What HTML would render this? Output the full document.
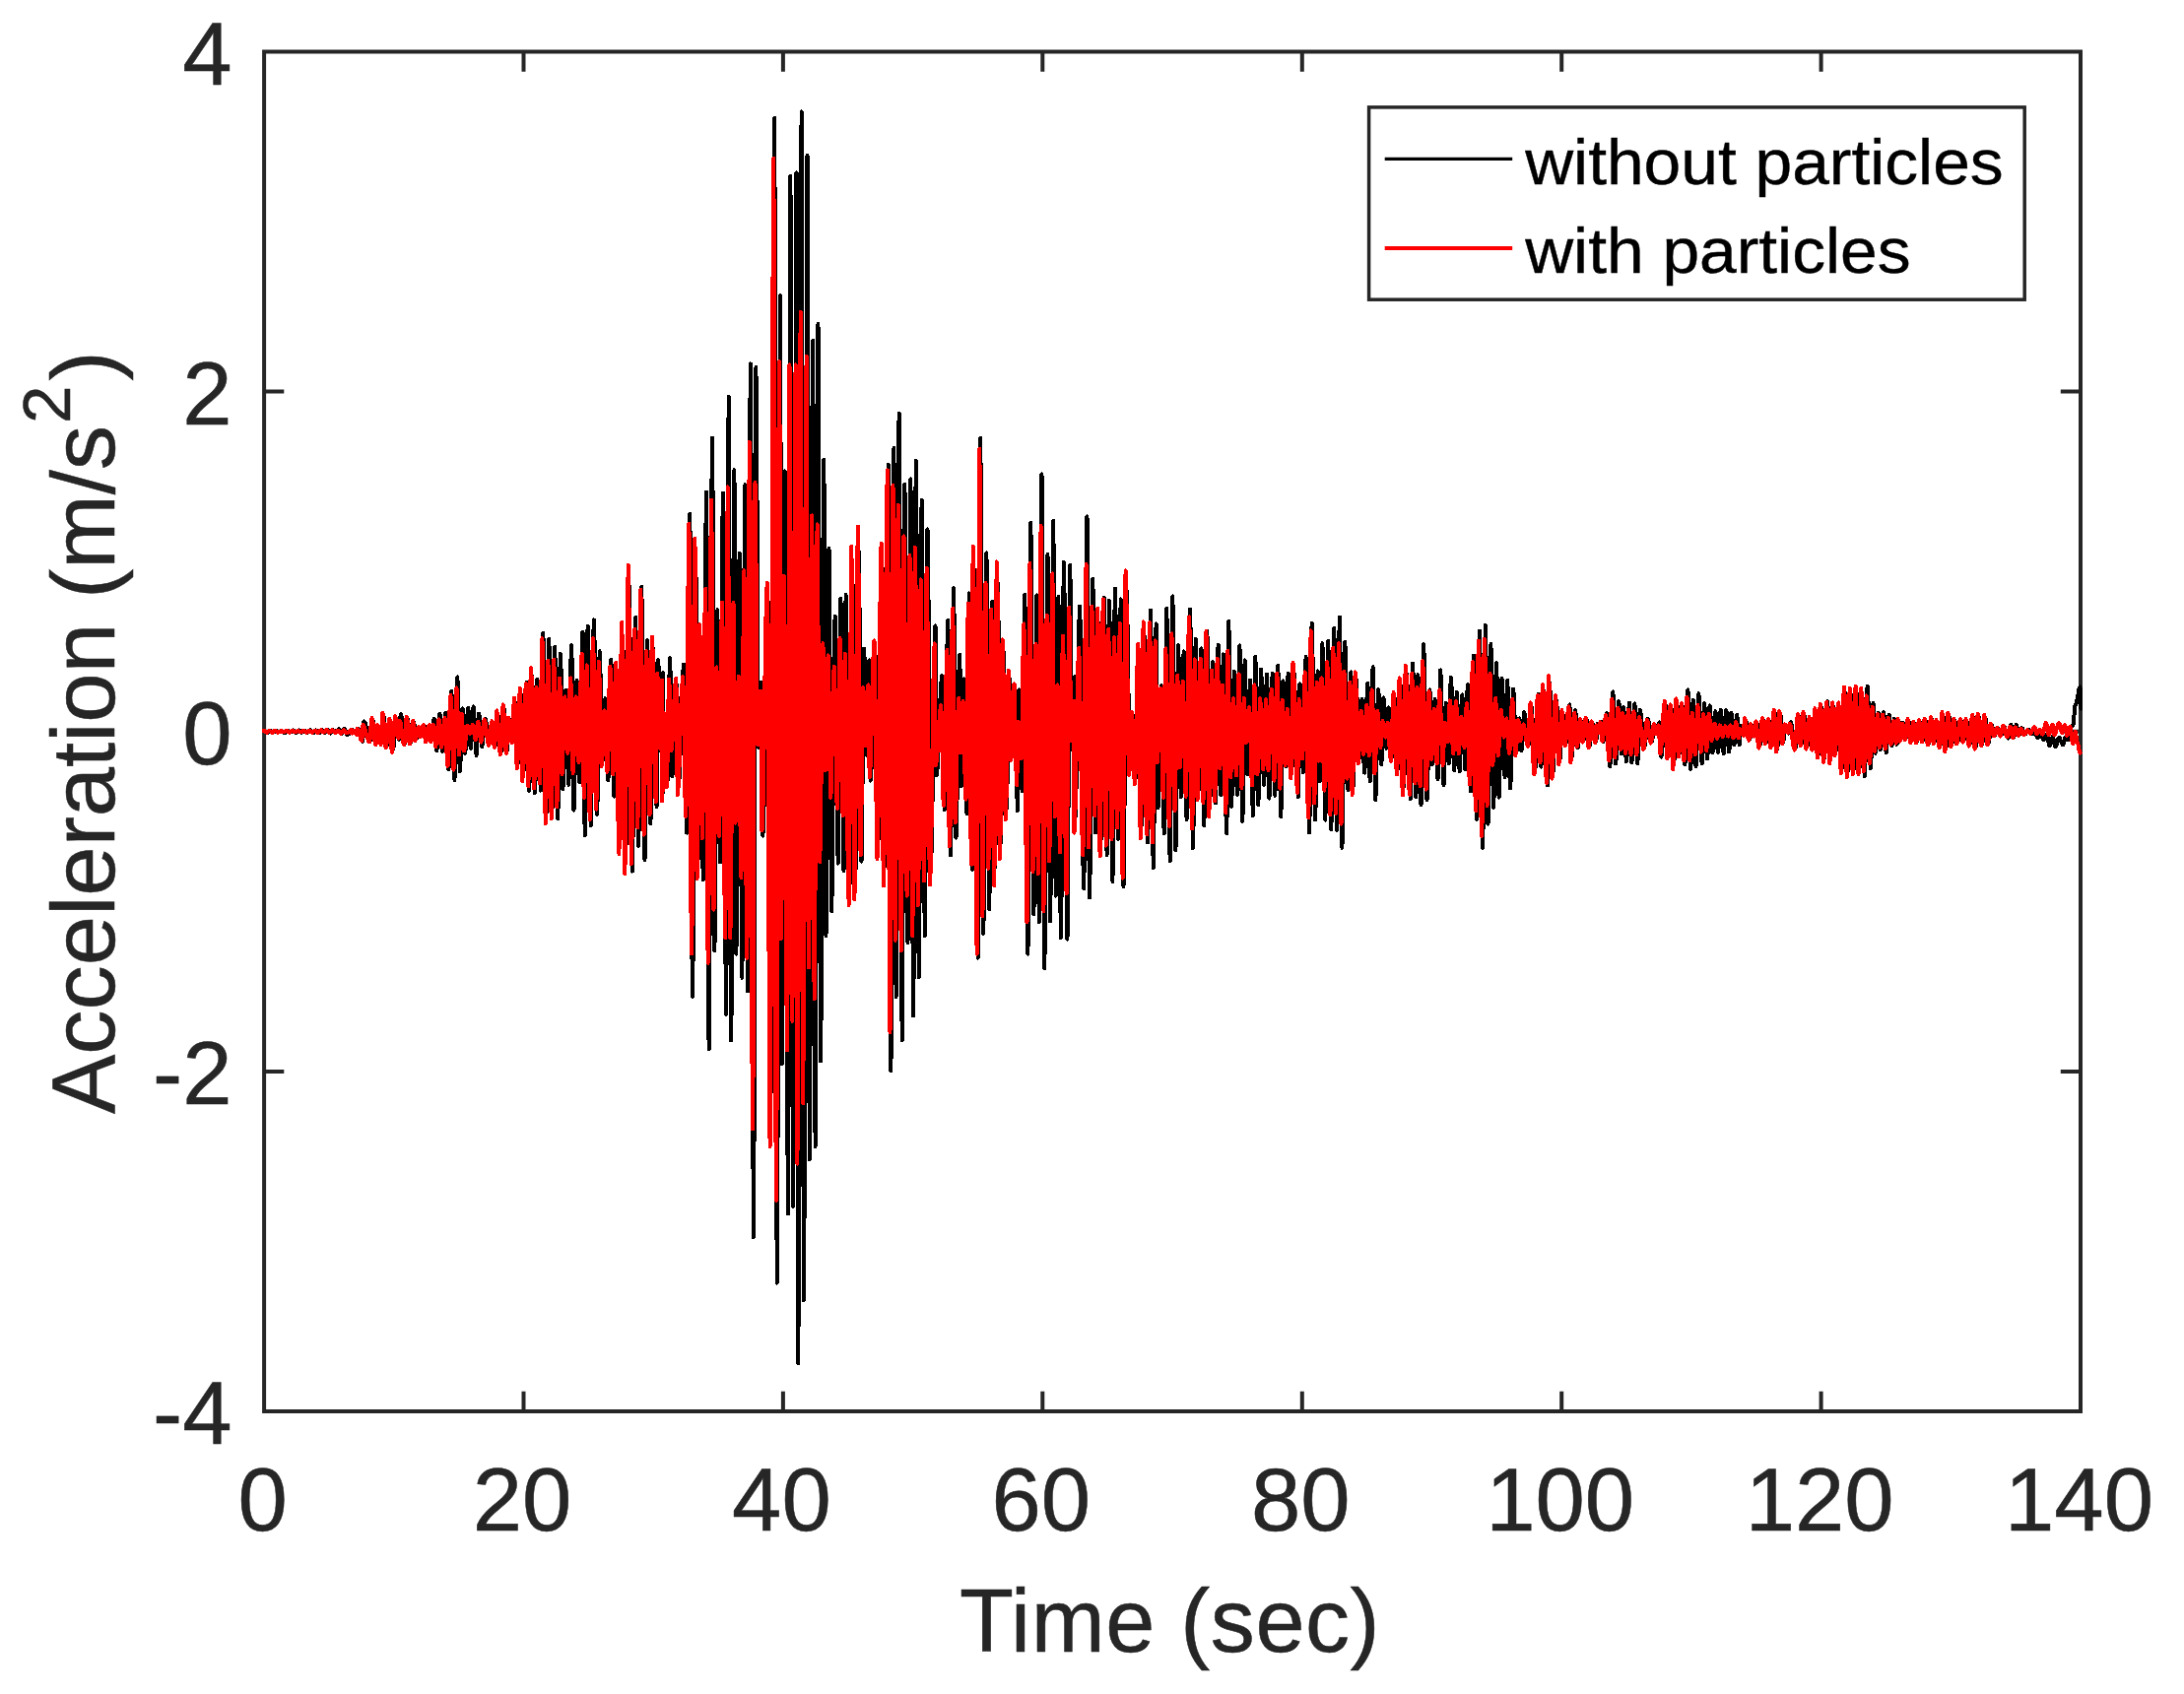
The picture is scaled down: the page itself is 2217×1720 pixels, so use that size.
<!DOCTYPE html>
<html lang="en"><head><meta charset="utf-8"><title>Acceleration vs Time</title>
<style>html,body{margin:0;padding:0;background:#fff}body{width:2217px;height:1720px;overflow:hidden}</style>
</head><body>
<svg width="2217" height="1720" viewBox="0 0 2217 1720" style="display:block">
<rect x="0" y="0" width="2217" height="1720" fill="#fff"/>
<defs><clipPath id="ax"><rect x="266.0" y="52.5" width="1848.1" height="1380.5"/></clipPath></defs>
<g stroke="#262626" stroke-width="4.0" fill="none" stroke-linecap="butt">
<rect x="268.1" y="52.5" width="1843.9" height="1380.5"/>
<path d="M531.5 1433.0V1412.8M531.5 52.5V72.7"/>
<path d="M794.9 1433.0V1412.8M794.9 52.5V72.7"/>
<path d="M1058.3 1433.0V1412.8M1058.3 52.5V72.7"/>
<path d="M1321.8 1433.0V1412.8M1321.8 52.5V72.7"/>
<path d="M1585.2 1433.0V1412.8M1585.2 52.5V72.7"/>
<path d="M1848.6 1433.0V1412.8M1848.6 52.5V72.7"/>
<path d="M268.1 397.6H288.3M2112.0 397.6H2091.8"/>
<path d="M268.1 742.8H288.3M2112.0 742.8H2091.8"/>
<path d="M268.1 1087.9H288.3M2112.0 1087.9H2091.8"/>
</g>
<g clip-path="url(#ax)" fill="none" stroke-linejoin="round" stroke-linecap="round" stroke-width="4.0" shape-rendering="crispEdges">
<path stroke="#000" d="M268.6 741.9L269.2 742.1L269.8 742.6L270.3 743.1L270.9 743.6L271.5 743.7L272.1 743.6L272.7 743.1L273.2 742.5L273.8 742.0L274.4 741.9L275.0 742.0L275.6 742.5L276.1 743.1L276.7 743.6L277.3 743.8L277.9 743.6L278.5 743.1L279.0 742.4L279.6 741.9L280.2 741.7L280.8 741.9L281.3 742.3L281.9 742.8L282.5 743.3L283.1 743.4L283.7 743.3L284.2 743.0L284.8 742.6L285.4 742.2L286.0 742.1L286.6 742.3L287.1 742.7L287.7 743.3L288.3 743.8L288.9 744.0L289.5 743.8L290.0 743.3L290.6 742.6L291.2 742.1L291.8 741.9L292.4 742.1L292.9 742.5L293.5 743.0L294.1 743.4L294.7 743.6L295.3 743.4L295.8 742.8L296.4 742.1L297.0 741.6L297.6 741.4L298.2 741.6L298.7 742.2L299.3 743.0L299.9 743.6L300.5 743.8L301.1 743.6L301.6 743.0L302.2 742.2L302.8 741.6L303.4 741.4L304.0 741.7L304.5 742.3L305.1 743.0L305.7 743.6L306.3 743.8L306.8 743.6L307.4 743.0L308.0 742.3L308.6 741.7L309.2 741.5L309.7 741.7L310.3 742.2L310.9 742.9L311.5 743.5L312.1 743.7L312.6 743.4L313.2 742.9L313.8 742.2L314.4 741.6L315.0 741.4L315.5 741.7L316.1 742.4L316.7 743.3L317.3 744.1L317.9 744.4L318.4 744.1L319.0 743.3L319.6 742.4L320.2 741.7L320.8 741.4L321.3 741.7L321.9 742.4L322.5 743.4L323.1 744.1L323.7 744.4L324.2 744.1L324.8 743.3L325.4 742.2L326.0 741.4L326.6 741.1L327.1 741.3L327.7 742.0L328.3 742.9L328.9 743.6L329.4 743.9L330.0 743.6L330.6 742.8L331.2 741.9L331.8 741.1L332.3 740.8L332.9 741.2L333.5 742.1L334.1 743.3L334.7 744.3L335.2 744.6L335.8 744.3L336.4 743.4L337.0 742.3L337.6 741.4L338.1 741.1L338.7 741.4L339.3 742.2L339.9 743.1L340.5 743.8L341.0 744.1L341.6 743.7L342.2 742.7L342.8 741.5L343.4 740.5L343.9 740.1L344.5 740.6L345.1 741.8L345.7 743.3L346.3 744.5L346.8 745.0L347.4 744.5L348.0 743.3L348.6 741.7L349.2 740.5L349.7 740.0L350.3 740.5L350.9 742.1L351.5 743.9L352.0 745.4L352.6 746.0L353.7 745.5L354.8 744.4L355.8 742.9L356.9 741.7L357.9 741.3L357.9 741.6L357.9 742.3L357.9 743.3L357.9 744.1L357.9 744.4L358.4 744.2L359.0 743.6L359.5 742.9L360.0 742.4L360.5 742.2L361.0 742.5L361.5 743.3L362.0 744.3L362.6 745.1L363.1 745.4L363.2 744.9L363.3 743.6L363.4 742.0L363.6 740.7L363.7 740.2L364.6 741.4L365.5 744.6L366.4 748.5L367.3 751.6L368.2 752.8L368.4 750.9L368.7 745.7L369.0 739.4L369.2 734.2L369.5 732.3L370.8 734.2L372.0 739.1L373.3 745.2L374.6 750.1L375.9 752.0L376.4 750.0L376.9 744.7L377.4 738.2L377.9 733.0L378.4 730.9L379.2 733.2L380.0 739.0L380.8 746.2L381.5 752.0L382.3 754.2L382.7 752.6L383.1 748.3L383.4 743.1L383.8 738.8L384.2 737.2L384.9 738.8L385.5 743.1L386.1 748.3L386.8 752.6L387.4 754.2L387.8 751.6L388.2 744.6L388.6 736.0L389.0 729.1L389.3 726.4L390.0 729.4L390.6 737.0L391.3 746.5L391.9 754.1L392.6 757.0L393.3 754.6L394.1 748.2L394.9 740.3L395.6 733.9L396.4 731.5L396.9 734.3L397.4 741.7L397.9 750.8L398.4 758.2L399.0 761.0L399.6 758.0L400.2 750.0L400.9 740.2L401.5 732.3L402.2 729.3L402.8 731.3L403.4 736.7L404.1 743.4L404.7 748.9L405.4 750.9L405.6 748.5L405.9 742.0L406.1 734.1L406.4 727.7L406.7 725.2L407.6 728.0L408.4 735.2L409.3 744.2L410.2 751.5L411.1 754.2L411.7 751.9L412.2 745.8L412.7 738.3L413.2 732.1L413.7 729.8L414.3 732.1L415.0 738.1L415.6 745.4L416.3 751.4L416.9 753.7L417.6 751.7L418.2 746.6L418.8 740.3L419.5 735.2L420.1 733.2L420.5 734.9L420.9 739.3L421.3 744.7L421.7 749.2L422.0 750.8L422.8 749.7L423.6 746.7L424.3 743.0L425.1 740.0L425.9 738.8L426.1 739.7L426.4 741.8L426.7 744.5L426.9 746.6L427.2 747.5L427.9 746.5L428.7 743.9L429.5 740.7L430.2 738.1L431.0 737.2L431.4 738.6L431.8 742.3L432.2 746.9L432.6 750.6L432.9 752.0L433.7 750.6L434.5 746.9L435.2 742.3L436.0 738.6L436.8 737.2L437.0 738.6L437.3 742.3L437.6 746.9L437.8 750.6L438.1 752.0L438.6 749.8L439.1 744.3L439.6 737.4L440.1 731.8L440.6 729.7L441.1 732.8L441.7 741.0L442.2 751.1L442.7 759.3L443.2 762.5L443.8 758.8L444.5 749.4L445.1 737.7L445.8 728.2L446.4 724.6L446.9 728.3L447.4 737.9L447.9 749.8L448.4 759.4L449.0 763.1L449.7 759.3L450.3 749.4L451.0 737.2L451.7 727.3L452.4 723.6L453.0 729.1L453.6 743.4L454.2 761.2L454.8 775.6L455.4 781.1L456.0 773.5L456.6 753.6L457.1 729.0L457.7 709.1L458.3 701.5L458.9 710.1L459.6 732.8L460.2 760.7L460.8 783.3L461.4 791.9L462.0 782.0L462.6 755.8L463.2 723.5L463.8 697.4L464.3 687.4L464.9 696.5L465.4 720.4L465.9 750.0L466.4 773.8L466.9 783.0L467.4 776.9L467.9 761.0L468.4 741.4L469.0 725.5L469.5 719.5L470.0 723.8L470.5 735.2L471.0 749.3L471.5 760.7L472.0 765.0L472.7 760.6L473.3 749.1L474.0 734.8L474.6 723.2L475.2 718.8L475.8 722.7L476.3 733.0L476.8 745.7L477.3 756.0L477.8 759.9L478.4 755.9L478.9 745.3L479.5 732.2L480.1 721.6L480.6 717.5L481.2 722.3L481.8 734.6L482.4 749.9L483.0 762.2L483.6 766.9L484.1 762.9L484.6 752.3L485.1 739.2L485.6 728.6L486.1 724.6L486.8 727.8L487.4 736.1L488.1 746.4L488.7 754.8L489.3 758.0L490.0 755.3L490.6 748.2L491.3 739.5L491.9 732.4L492.6 729.7L493.4 732.1L494.3 738.4L495.2 746.1L496.1 752.4L497.0 754.8L497.7 752.8L498.3 747.5L499.0 741.0L499.6 735.8L500.2 733.8L500.8 736.0L501.3 741.7L501.8 748.8L502.3 754.6L502.9 756.8L503.3 753.7L503.8 745.6L504.3 735.5L504.8 727.3L505.2 724.2L505.9 727.9L506.6 737.6L507.4 749.6L508.1 759.3L508.8 763.0L509.3 758.8L509.9 747.8L510.5 734.2L511.0 723.2L511.6 719.0L512.2 723.1L512.8 733.9L513.4 747.2L514.1 757.9L514.7 762.0L515.1 759.0L515.6 751.1L516.1 741.4L516.6 733.5L517.0 730.5L517.7 732.6L518.5 738.1L519.2 745.0L519.9 750.5L520.6 752.7L521.1 748.8L521.5 738.9L522.0 726.6L522.5 716.6L522.9 712.8L523.5 718.8L524.1 734.5L524.6 753.8L525.2 769.5L525.8 775.5L526.4 768.7L527.0 751.0L527.6 729.0L528.2 711.3L528.8 704.5L529.3 712.4L529.8 733.0L530.3 758.5L530.7 779.1L531.2 787.0L531.9 778.0L532.6 754.5L533.3 725.5L534.0 702.1L534.8 693.1L535.2 703.6L535.7 731.0L536.2 764.8L536.6 792.2L537.1 802.7L537.7 791.6L538.3 762.4L538.8 726.4L539.4 697.3L540.0 686.2L540.6 697.5L541.2 727.2L541.8 764.0L542.4 793.7L543.0 805.1L543.5 794.0L544.0 765.1L544.4 729.5L544.9 700.6L545.4 689.5L546.1 700.4L546.8 728.6L547.5 763.6L548.2 791.9L548.9 802.7L549.4 787.4L549.9 747.4L550.3 698.0L550.8 658.0L551.3 642.8L552.0 660.2L552.7 705.7L553.4 761.9L554.1 807.4L554.8 824.8L555.3 808.0L555.8 763.9L556.3 709.5L556.7 665.5L557.2 648.7L557.9 665.1L558.6 707.9L559.3 761.0L560.0 803.8L560.7 820.2L561.2 804.6L561.7 763.8L562.2 713.4L562.6 672.5L563.1 656.9L563.7 673.6L564.3 717.1L564.9 770.9L565.6 814.4L566.2 831.0L566.7 815.1L567.3 773.3L567.9 721.7L568.4 680.0L569.0 664.0L569.5 677.2L570.0 711.5L570.4 754.0L570.9 788.4L571.4 801.5L571.9 791.9L572.5 766.7L573.1 735.5L573.6 710.3L574.2 700.7L574.8 709.8L575.4 733.9L576.0 763.6L576.7 787.6L577.3 796.8L577.8 783.3L578.4 747.9L579.0 704.2L579.5 668.8L580.1 655.3L580.6 671.3L581.1 713.2L581.5 764.9L582.0 806.8L582.5 822.8L583.1 810.2L583.7 777.2L584.3 736.3L584.9 703.3L585.5 690.7L586.1 700.6L586.7 726.6L587.2 758.6L587.8 784.5L588.4 794.4L589.0 779.8L589.6 741.6L590.2 694.4L590.8 656.2L591.5 641.6L591.9 661.3L592.4 712.9L592.9 776.7L593.3 828.3L593.8 848.0L594.4 827.8L594.9 774.7L595.5 709.1L596.1 656.0L596.6 635.7L597.3 655.0L597.9 705.6L598.5 768.2L599.1 818.8L599.7 838.1L600.3 818.2L600.9 766.0L601.6 701.5L602.2 649.2L602.8 629.3L603.5 648.2L604.1 697.5L604.8 758.6L605.4 807.9L606.1 826.8L606.6 811.0L607.1 769.6L607.7 718.4L608.2 677.0L608.7 661.2L609.3 671.9L609.8 700.0L610.4 734.7L611.0 762.7L611.5 773.4L612.1 767.3L612.7 751.2L613.2 731.4L613.8 715.3L614.4 709.2L615.0 717.1L615.6 737.8L616.2 763.4L616.8 784.1L617.4 792.1L618.0 780.4L618.6 749.9L619.1 712.1L619.7 681.6L620.3 669.9L620.9 683.2L621.5 717.8L622.1 760.7L622.7 795.4L623.3 808.6L623.9 796.5L624.5 764.7L625.0 725.5L625.6 693.7L626.2 681.6L626.8 697.9L627.4 740.4L628.0 793.0L628.6 835.6L629.3 851.8L629.8 832.1L630.4 780.4L631.0 716.6L631.5 665.0L632.1 645.2L632.7 666.6L633.3 722.7L633.9 792.0L634.5 848.1L635.2 869.5L635.9 843.2L636.6 774.4L637.3 689.4L638.0 620.6L638.7 594.3L639.3 622.0L639.9 694.6L640.5 784.3L641.2 856.9L641.8 884.7L642.4 860.1L643.1 795.6L643.8 716.0L644.4 651.6L645.1 626.9L645.7 649.1L646.3 707.1L646.9 778.8L647.5 836.8L648.1 858.9L648.8 833.8L649.4 768.0L650.0 686.7L650.6 620.9L651.2 595.8L651.9 622.2L652.5 691.6L653.2 777.3L653.9 846.6L654.5 873.1L655.0 851.8L655.6 796.0L656.1 727.1L656.6 671.4L657.1 650.1L657.8 667.9L658.4 714.4L659.1 771.9L659.8 818.5L660.4 836.2L660.9 819.2L661.4 774.8L661.9 719.8L662.3 675.3L662.8 658.3L663.6 673.7L664.3 713.9L665.1 763.6L665.8 803.9L666.6 819.2L666.9 805.0L667.2 767.7L667.6 721.7L667.9 684.4L668.2 670.2L668.7 679.0L669.2 702.0L669.6 730.5L670.1 753.6L670.6 762.4L671.1 754.8L671.5 735.0L672.0 710.5L672.5 690.7L673.0 683.2L673.0 694.8L673.0 725.1L673.0 762.7L673.0 793.0L673.0 804.6L673.4 797.2L673.9 777.7L674.4 753.6L674.8 734.1L675.3 726.7L675.8 732.9L676.3 749.3L676.7 769.5L677.2 785.9L677.7 792.2L678.2 780.3L678.6 749.4L679.1 711.1L679.6 680.1L680.0 668.3L680.5 679.8L681.0 709.8L681.5 747.0L681.9 777.0L682.4 788.5L683.3 779.6L684.3 756.4L685.2 727.7L686.2 704.4L687.1 695.5L687.5 705.5L687.8 731.4L688.1 763.5L688.5 789.5L688.8 799.4L689.8 787.5L690.9 756.3L691.9 717.7L693.0 686.5L694.0 674.6L694.6 690.9L695.3 733.7L695.9 786.5L696.5 829.3L697.2 845.6L697.8 814.7L698.4 733.8L699.1 633.8L699.7 552.9L700.3 522.0L700.9 568.8L701.4 691.3L701.9 842.7L702.4 965.2L703.0 1011.9L703.6 969.8L704.3 859.4L704.9 722.9L705.6 612.5L706.3 570.3L706.7 599.3L707.2 675.2L707.6 769.1L708.1 845.0L708.5 874.0L709.0 852.4L709.6 795.8L710.1 725.7L710.6 669.1L711.1 647.5L711.7 670.9L712.2 732.4L712.7 808.3L713.2 869.8L713.8 893.2L714.4 855.6L715.1 757.2L715.7 635.6L716.4 537.2L717.1 499.6L717.6 553.6L718.1 695.0L718.6 869.8L719.1 1011.3L719.6 1065.3L720.3 1006.0L720.9 850.9L721.6 659.1L722.3 504.0L723.0 444.7L723.5 494.4L723.9 624.5L724.4 785.4L724.9 915.5L725.4 965.2L725.9 932.1L726.5 845.6L727.1 738.7L727.7 652.2L728.3 619.2L728.8 643.7L729.3 707.7L729.8 786.9L730.4 851.0L730.9 875.5L731.5 839.7L732.1 746.0L732.7 630.1L733.3 536.4L733.9 500.6L734.6 551.2L735.2 683.5L735.8 847.0L736.5 979.4L737.1 1029.9L737.6 970.0L738.1 813.3L738.7 619.6L739.2 462.8L739.7 403.0L740.2 465.4L740.7 628.8L741.2 830.8L741.7 994.2L742.2 1056.6L742.9 1001.3L743.5 856.4L744.1 677.4L744.7 532.5L745.4 477.2L745.8 524.1L746.2 647.0L746.6 798.8L747.0 921.7L747.4 968.6L748.0 929.8L748.7 828.1L749.3 702.3L750.0 600.6L750.6 561.7L751.2 602.9L751.7 710.7L752.2 843.9L752.8 951.6L753.3 992.8L753.9 945.0L754.5 819.8L755.1 665.1L755.7 540.0L756.3 492.2L756.9 541.3L757.5 669.9L758.1 828.9L758.6 957.5L759.2 1006.6L759.7 945.7L760.3 786.4L760.8 589.5L761.3 430.2L761.8 369.3L762.5 454.0L763.1 675.6L763.7 949.6L764.4 1171.3L765.0 1256.0L765.5 1171.6L766.0 950.9L766.4 678.0L766.9 457.3L767.4 372.9L767.9 409.8L768.5 506.3L769.1 625.6L769.6 722.1L770.2 759.0L770.8 752.7L771.3 736.1L771.9 715.7L772.5 699.2L773.0 692.9L773.3 707.8L773.6 746.7L773.8 794.9L774.1 833.8L774.4 848.7L775.4 825.9L776.5 766.2L777.5 692.4L778.6 632.8L779.6 610.0L780.2 658.0L780.8 783.8L781.4 939.3L781.9 1065.1L782.5 1113.2L783.3 1018.3L784.0 769.9L784.7 462.8L785.5 214.3L786.2 119.5L786.7 232.4L787.2 528.3L787.7 893.9L788.2 1189.7L788.7 1302.7L789.4 1207.0L790.0 956.4L790.7 646.6L791.3 396.0L792.0 300.3L792.4 374.8L792.7 569.7L793.1 810.7L793.5 1005.6L793.8 1080.1L794.4 1022.7L795.0 872.2L795.6 686.3L796.2 535.8L796.7 478.4L797.4 550.4L798.1 738.8L798.7 971.7L799.4 1160.2L800.0 1232.1L800.5 1131.5L801.0 868.2L801.5 542.6L801.9 279.2L802.4 178.6L803.0 278.6L803.5 540.1L804.1 863.4L804.6 1125.0L805.2 1224.9L805.8 1124.7L806.5 862.2L807.2 537.9L807.8 275.4L808.5 175.2L808.8 290.6L809.2 592.8L809.6 966.4L809.9 1268.6L810.3 1384.0L811.0 1262.7L811.6 945.0L812.3 552.4L812.9 234.7L813.6 113.4L814.1 228.6L814.6 530.3L815.0 903.1L815.5 1204.8L816.0 1320.0L816.7 1209.0L817.4 918.5L818.1 559.4L818.8 268.9L819.5 157.9L820.0 255.3L820.4 510.2L820.9 825.2L821.3 1080.1L821.8 1177.4L822.4 1098.0L823.1 890.2L823.7 633.3L824.4 425.4L825.1 346.0L825.6 424.1L826.1 628.6L826.6 881.4L827.1 1085.9L827.6 1164.0L828.1 1084.2L828.7 875.4L829.3 617.3L829.9 408.5L830.5 328.8L831.0 400.3L831.5 587.4L832.0 818.7L832.6 1005.9L833.1 1077.3L833.7 1019.1L834.4 866.5L835.0 677.9L835.6 525.3L836.3 467.0L836.7 513.1L837.2 633.9L837.6 783.1L838.0 903.9L838.5 950.0L839.1 912.5L839.7 814.2L840.3 692.7L840.9 594.4L841.5 556.9L842.1 592.1L842.6 684.1L843.1 797.9L843.6 890.0L844.2 925.1L844.8 896.5L845.5 821.7L846.2 729.1L846.9 654.2L847.6 625.6L848.2 649.6L848.8 712.3L849.5 789.9L850.1 852.7L850.7 876.7L851.3 851.0L851.8 783.7L852.3 700.5L852.9 633.2L853.4 607.5L854.0 633.9L854.6 703.0L855.3 788.4L855.9 857.5L856.5 883.9L857.0 857.2L857.4 787.2L857.8 700.7L858.2 630.7L858.6 604.0L859.4 632.0L860.2 705.4L861.0 796.1L861.8 869.5L862.6 897.6L863.1 867.0L863.7 787.0L864.2 688.2L864.7 608.2L865.2 577.6L865.8 607.7L866.4 686.5L867.1 783.8L867.7 862.6L868.3 892.7L869.0 860.9L869.7 777.7L870.4 674.8L871.1 591.6L871.8 559.8L872.3 589.9L872.9 668.6L873.4 765.8L873.9 844.5L874.5 874.6L875.0 853.9L875.5 799.9L876.0 733.1L876.6 679.0L877.1 658.4L877.6 668.7L878.1 695.8L878.7 729.4L879.2 756.5L879.7 766.8L880.2 757.6L880.8 733.5L881.3 703.7L881.8 679.6L882.4 670.4L882.6 682.1L882.9 712.7L883.1 750.4L883.4 781.0L883.7 792.6L884.6 780.1L885.6 747.4L886.5 707.0L887.5 674.2L888.4 661.7L889.0 680.3L889.6 728.9L890.2 789.1L890.8 837.7L891.4 856.3L892.3 829.4L893.1 759.0L893.9 672.1L894.7 601.7L895.5 574.9L896.0 604.1L896.4 680.4L896.9 774.8L897.3 851.2L897.8 880.4L898.6 841.4L899.3 739.2L900.1 612.9L900.9 510.7L901.7 471.7L902.2 530.4L902.8 684.3L903.3 874.5L903.8 1028.4L904.4 1087.2L905.0 1026.8L905.6 868.8L906.2 673.5L906.8 515.4L907.4 455.1L907.8 508.3L908.3 647.5L908.7 819.6L909.2 958.8L909.6 1011.9L910.2 955.4L910.8 807.3L911.4 624.2L912.0 476.1L912.6 419.5L913.3 480.3L913.9 639.5L914.5 836.3L915.1 995.5L915.7 1056.3L916.2 1002.4L916.8 861.3L917.3 686.9L917.9 545.7L918.4 491.8L919.0 536.3L919.7 652.6L920.3 796.5L920.9 912.8L921.5 957.2L922.1 912.3L922.6 794.5L923.2 649.0L923.8 531.3L924.4 486.3L924.9 538.4L925.5 674.7L926.0 843.2L926.6 979.5L927.1 1031.6L927.7 977.8L928.2 836.8L928.7 662.5L929.2 521.5L929.8 467.7L930.4 517.8L931.0 648.9L931.6 811.0L932.2 942.2L932.8 992.3L933.4 946.0L933.9 824.9L934.5 675.1L935.0 554.0L935.6 507.7L936.2 550.0L936.9 660.6L937.5 797.4L938.2 908.1L938.9 950.3L939.4 910.9L939.9 807.6L940.4 680.0L941.0 576.7L941.5 537.2L942.2 569.9L942.9 655.5L943.6 761.2L944.3 846.8L945.0 879.5L945.9 856.2L946.8 795.2L947.7 719.7L948.6 658.7L949.5 635.4L949.8 649.9L950.1 687.9L950.3 734.9L950.6 772.9L950.8 787.4L951.9 777.8L953.0 752.4L954.0 721.0L955.1 695.7L956.1 686.0L956.6 699.0L957.2 733.0L957.7 775.0L958.2 809.0L958.7 822.0L959.5 803.6L960.2 755.5L960.9 696.0L961.6 647.9L962.3 629.5L962.8 652.4L963.4 712.1L963.9 785.9L964.4 845.6L964.9 868.4L965.5 842.5L966.1 774.7L966.8 690.8L967.4 623.0L968.0 597.1L968.5 621.3L969.0 684.7L969.5 763.1L970.0 826.6L970.5 850.8L971.2 833.0L971.9 786.5L972.7 729.0L973.4 682.5L974.2 664.8L974.5 677.5L974.9 710.8L975.3 752.1L975.6 785.4L976.0 798.1L976.5 787.8L977.0 760.6L977.5 727.0L978.0 699.8L978.5 689.4L979.1 702.5L979.7 736.6L980.2 778.9L980.8 813.0L981.4 826.1L981.9 804.7L982.3 748.8L982.8 679.6L983.3 623.7L983.8 602.3L984.4 629.1L985.1 699.2L985.7 785.9L986.4 856.1L987.1 882.9L987.4 853.7L987.7 777.3L988.0 682.9L988.3 606.5L988.6 577.3L989.4 615.1L990.2 713.9L991.0 836.1L991.8 935.0L992.6 972.8L993.1 922.4L993.6 790.3L994.2 627.2L994.7 495.2L995.2 444.7L995.8 492.8L996.4 618.6L997.0 774.1L997.7 899.9L998.3 947.9L998.9 911.0L999.5 814.4L1000.2 694.9L1000.8 598.3L1001.4 561.4L1002.0 595.9L1002.5 686.3L1003.1 798.1L1003.6 888.5L1004.2 923.1L1004.8 893.2L1005.4 815.1L1006.0 718.5L1006.6 640.4L1007.2 610.6L1007.8 636.3L1008.4 703.8L1009.0 787.2L1009.5 854.6L1010.1 880.4L1010.6 852.8L1011.2 780.5L1011.7 691.2L1012.2 618.9L1012.7 591.3L1013.4 616.6L1014.0 682.8L1014.6 764.7L1015.3 831.0L1015.9 856.3L1016.4 837.6L1017.0 788.7L1017.5 728.3L1018.0 679.5L1018.5 660.8L1019.2 676.2L1019.8 716.3L1020.4 765.9L1021.1 806.0L1021.7 821.3L1022.3 808.6L1022.9 775.4L1023.4 734.4L1024.0 701.2L1024.6 688.5L1025.1 696.1L1025.7 716.0L1026.2 740.6L1026.7 760.6L1027.2 768.2L1027.9 761.7L1028.5 744.7L1029.1 723.8L1029.8 706.8L1030.4 700.3L1030.9 712.0L1031.4 742.7L1032.0 780.6L1032.5 811.3L1033.0 823.0L1033.3 811.3L1033.6 780.7L1033.9 742.8L1034.2 712.2L1034.5 700.5L1035.1 710.3L1035.7 736.0L1036.4 767.8L1037.0 793.5L1037.6 803.3L1038.2 784.3L1038.7 734.4L1039.2 672.8L1039.7 622.9L1040.3 603.8L1040.9 638.7L1041.5 729.9L1042.2 842.6L1042.8 933.8L1043.4 968.6L1044.0 926.8L1044.6 817.3L1045.2 681.9L1045.8 572.3L1046.3 530.5L1046.9 568.5L1047.5 667.9L1048.1 790.8L1048.8 890.3L1049.4 928.3L1049.9 897.3L1050.5 816.4L1051.1 716.3L1051.7 635.3L1052.3 604.4L1052.8 636.1L1053.3 719.1L1053.8 821.8L1054.3 904.8L1054.8 936.5L1055.3 893.1L1055.9 779.3L1056.4 638.7L1057.0 524.9L1057.5 481.5L1058.1 529.4L1058.6 654.8L1059.2 809.8L1059.7 935.2L1060.3 983.1L1060.9 943.0L1061.6 837.8L1062.2 707.9L1062.8 602.8L1063.5 562.6L1064.0 598.2L1064.5 691.4L1065.0 806.7L1065.6 899.9L1066.1 935.5L1066.7 896.7L1067.4 795.0L1068.0 669.4L1068.6 567.8L1069.2 528.9L1069.7 565.3L1070.2 660.5L1070.7 778.1L1071.2 873.3L1071.8 909.6L1072.3 880.6L1072.8 804.7L1073.3 711.0L1073.9 635.1L1074.4 606.1L1074.9 639.1L1075.4 725.6L1075.9 832.5L1076.4 919.0L1076.9 952.1L1077.5 915.7L1078.1 820.3L1078.7 702.5L1079.3 607.1L1079.9 570.7L1080.6 607.3L1081.3 703.0L1082.0 821.3L1082.8 917.1L1083.5 953.6L1084.0 917.4L1084.5 822.4L1085.1 705.0L1085.6 610.1L1086.1 573.8L1086.6 591.7L1087.1 638.5L1087.6 696.4L1088.2 743.3L1088.7 761.1L1089.2 754.0L1089.7 735.4L1090.2 712.4L1090.7 693.8L1091.2 686.7L1091.3 700.6L1091.3 737.2L1091.3 782.5L1091.3 819.1L1091.4 833.0L1092.3 812.2L1093.3 757.8L1094.2 690.6L1095.2 636.2L1096.1 615.4L1096.9 642.8L1097.7 714.6L1098.6 803.3L1099.4 875.1L1100.2 902.5L1100.9 866.4L1101.5 771.9L1102.2 655.1L1102.8 560.6L1103.5 524.5L1104.0 561.4L1104.5 658.1L1105.0 777.7L1105.5 874.4L1106.0 911.3L1106.7 880.4L1107.3 799.5L1108.0 699.5L1108.6 618.5L1109.3 587.6L1109.8 612.2L1110.4 676.7L1110.9 756.4L1111.5 820.8L1112.1 845.4L1112.7 825.1L1113.3 772.0L1113.9 706.3L1114.5 653.2L1115.1 632.9L1115.6 654.0L1116.0 709.3L1116.5 777.6L1117.0 832.9L1117.5 854.0L1118.1 830.4L1118.8 768.5L1119.4 692.1L1120.1 630.2L1120.7 606.6L1121.3 631.5L1121.9 696.9L1122.5 777.6L1123.1 842.9L1123.6 867.9L1124.1 843.2L1124.6 778.8L1125.1 699.1L1125.5 634.7L1126.0 610.0L1126.7 637.3L1127.4 708.5L1128.1 796.6L1128.8 867.9L1129.4 895.1L1129.9 866.7L1130.4 792.3L1130.9 700.4L1131.4 626.0L1131.9 597.6L1132.5 621.9L1133.2 685.4L1133.8 764.0L1134.4 827.5L1135.0 851.8L1135.5 828.6L1136.1 767.7L1136.6 692.4L1137.2 631.6L1137.7 608.3L1138.3 636.2L1138.8 709.2L1139.4 799.4L1139.9 872.4L1140.5 900.3L1141.1 871.5L1141.7 796.3L1142.3 703.2L1142.9 627.9L1143.5 599.2L1144.2 616.6L1145.0 662.1L1145.7 718.3L1146.4 763.9L1147.1 781.2L1147.6 775.9L1148.1 762.0L1148.7 744.9L1149.2 731.0L1149.7 725.7L1150.4 731.8L1151.0 747.7L1151.6 767.4L1152.2 783.4L1152.9 789.4L1153.6 777.5L1154.3 746.3L1154.9 707.7L1155.6 676.5L1156.3 664.6L1156.8 681.2L1157.3 724.5L1157.7 778.1L1158.2 821.5L1158.7 838.0L1159.3 819.6L1159.8 771.4L1160.4 711.7L1161.0 663.5L1161.6 645.0L1162.3 665.1L1162.9 717.7L1163.6 782.7L1164.3 835.3L1165.0 855.4L1165.6 832.9L1166.2 773.9L1166.7 701.0L1167.3 642.1L1167.9 619.5L1168.5 644.5L1169.1 710.0L1169.6 790.9L1170.2 856.3L1170.8 881.3L1171.3 857.6L1171.9 795.6L1172.5 719.0L1173.0 657.0L1173.6 633.3L1174.0 651.2L1174.4 697.8L1174.8 755.4L1175.2 802.1L1175.7 819.9L1176.3 808.1L1177.0 777.2L1177.6 739.0L1178.3 708.1L1179.0 696.3L1179.5 710.7L1180.1 748.1L1180.6 794.5L1181.2 832.0L1181.7 846.3L1182.2 824.4L1182.7 767.2L1183.2 696.5L1183.7 639.3L1184.2 617.5L1184.9 642.0L1185.6 706.2L1186.3 785.6L1187.0 849.9L1187.7 874.4L1188.2 848.7L1188.7 781.5L1189.2 698.3L1189.8 631.1L1190.3 605.4L1190.9 630.0L1191.6 694.5L1192.2 774.2L1192.8 838.7L1193.4 863.4L1194.0 843.5L1194.5 791.4L1195.0 727.0L1195.6 675.0L1196.1 655.1L1196.6 669.8L1197.2 708.4L1197.7 756.2L1198.3 794.8L1198.8 809.5L1199.4 795.4L1200.0 758.4L1200.5 712.6L1201.1 675.6L1201.6 661.5L1202.2 677.8L1202.8 720.4L1203.4 773.1L1204.0 815.7L1204.6 832.0L1205.3 811.6L1206.0 758.2L1206.7 692.3L1207.4 638.9L1208.1 618.5L1208.6 641.7L1209.2 702.3L1209.8 777.3L1210.4 838.0L1211.0 861.1L1211.5 840.9L1212.1 787.8L1212.6 722.2L1213.2 669.1L1213.7 648.9L1214.3 663.6L1214.8 702.3L1215.4 750.1L1215.9 788.8L1216.5 803.6L1217.1 789.7L1217.7 753.4L1218.3 708.5L1218.9 672.2L1219.5 658.4L1220.1 675.5L1220.6 720.4L1221.2 775.9L1221.7 820.9L1222.3 838.0L1222.9 819.2L1223.5 769.8L1224.1 708.8L1224.7 659.4L1225.3 640.6L1225.9 657.6L1226.4 702.1L1227.0 757.2L1227.5 801.7L1228.1 818.8L1228.7 804.8L1229.2 768.1L1229.8 722.8L1230.4 686.2L1231.0 672.2L1231.6 685.8L1232.2 721.5L1232.8 765.7L1233.4 801.4L1234.0 815.1L1234.5 799.7L1235.1 759.6L1235.6 710.0L1236.1 669.9L1236.6 654.6L1237.2 669.1L1237.7 707.3L1238.2 754.4L1238.8 792.5L1239.3 807.1L1239.8 793.5L1240.3 757.8L1240.9 713.7L1241.4 678.0L1241.9 664.4L1242.6 681.8L1243.2 727.2L1243.9 783.4L1244.5 828.9L1245.2 846.3L1245.6 825.7L1246.0 771.8L1246.4 705.1L1246.8 651.2L1247.2 630.6L1247.8 648.6L1248.3 695.7L1248.9 753.9L1249.5 801.0L1250.1 819.0L1250.6 805.9L1251.2 771.6L1251.7 729.2L1252.3 694.9L1252.8 681.8L1253.5 693.8L1254.1 725.1L1254.7 763.7L1255.3 795.0L1255.9 806.9L1256.4 792.5L1256.9 754.6L1257.4 707.8L1257.9 669.9L1258.4 655.4L1259.0 672.5L1259.5 717.1L1260.1 772.2L1260.7 816.8L1261.3 833.9L1261.8 818.2L1262.2 777.3L1262.7 726.8L1263.2 685.9L1263.6 670.3L1264.1 681.3L1264.6 710.3L1265.1 746.1L1265.6 775.0L1266.1 786.1L1266.7 776.9L1267.3 753.0L1267.9 723.5L1268.5 699.6L1269.0 690.5L1269.6 703.6L1270.2 738.0L1270.8 780.6L1271.4 815.0L1271.9 828.2L1272.4 812.7L1272.9 772.4L1273.4 722.5L1273.8 682.1L1274.3 666.6L1274.9 681.0L1275.5 718.6L1276.1 765.1L1276.7 802.8L1277.3 817.1L1277.9 804.0L1278.5 769.5L1279.0 727.0L1279.6 692.6L1280.1 679.4L1280.7 690.6L1281.3 720.0L1281.9 756.2L1282.5 785.6L1283.1 796.8L1283.7 786.1L1284.3 758.0L1284.9 723.3L1285.5 695.3L1286.0 684.6L1286.5 696.6L1287.0 728.2L1287.5 767.2L1287.9 798.7L1288.4 810.7L1289.1 798.6L1289.7 766.8L1290.4 727.5L1291.0 695.7L1291.7 683.6L1292.2 695.4L1292.8 726.5L1293.3 764.9L1293.8 795.9L1294.3 807.8L1294.9 795.2L1295.5 762.1L1296.1 721.3L1296.7 688.2L1297.2 675.6L1297.8 690.3L1298.4 728.6L1299.1 776.0L1299.7 814.4L1300.3 829.0L1300.7 815.9L1301.2 781.5L1301.6 739.0L1302.1 704.6L1302.5 691.5L1303.1 699.8L1303.7 721.5L1304.3 748.4L1304.9 770.2L1305.5 778.5L1306.0 769.4L1306.4 745.7L1306.8 716.4L1307.2 692.6L1307.6 683.6L1308.4 693.2L1309.1 718.4L1309.9 749.5L1310.6 774.7L1311.3 784.3L1311.7 774.5L1312.2 748.7L1312.6 716.9L1313.0 691.2L1313.4 681.3L1314.3 693.5L1315.2 725.5L1316.1 765.0L1317.0 797.0L1317.9 809.2L1318.2 798.2L1318.5 769.5L1318.9 734.0L1319.2 705.2L1319.5 694.3L1320.2 702.9L1320.9 725.4L1321.5 753.2L1322.2 775.7L1322.9 784.3L1323.5 773.1L1324.0 743.8L1324.5 707.5L1325.1 678.1L1325.6 666.9L1326.3 684.0L1327.0 728.6L1327.7 783.7L1328.4 828.4L1329.1 845.4L1329.6 825.1L1330.1 771.9L1330.6 706.2L1331.1 653.0L1331.6 632.7L1332.3 651.8L1333.0 701.8L1333.7 763.5L1334.4 813.5L1335.0 832.6L1335.6 818.1L1336.1 780.4L1336.6 733.7L1337.1 695.9L1337.6 681.5L1338.0 692.1L1338.4 720.1L1338.8 754.6L1339.3 782.5L1339.7 793.2L1340.2 779.8L1340.8 744.9L1341.3 701.6L1341.9 666.6L1342.4 653.2L1343.0 670.4L1343.6 715.2L1344.2 770.6L1344.7 815.4L1345.3 832.6L1345.9 815.2L1346.5 769.7L1347.1 713.5L1347.6 668.0L1348.2 650.7L1348.8 669.0L1349.5 716.9L1350.1 776.2L1350.7 824.2L1351.3 842.5L1351.9 822.9L1352.5 771.7L1353.1 708.3L1353.6 657.1L1354.2 637.5L1354.8 657.1L1355.3 708.4L1355.9 771.9L1356.4 823.2L1357.0 842.8L1357.5 822.2L1358.1 768.1L1358.7 701.2L1359.3 647.0L1359.9 626.4L1360.4 648.8L1360.9 707.4L1361.4 779.8L1361.9 838.4L1362.4 860.8L1363.0 840.8L1363.6 788.5L1364.2 723.8L1364.8 671.5L1365.3 651.5L1366.0 665.9L1366.6 703.6L1367.2 750.1L1367.8 787.7L1368.4 802.1L1369.0 790.7L1369.6 760.7L1370.2 723.7L1370.7 693.8L1371.3 682.3L1371.8 693.5L1372.2 722.6L1372.7 758.7L1373.1 787.8L1373.6 799.0L1374.2 788.5L1374.8 761.3L1375.4 727.5L1376.0 700.2L1376.6 689.8L1377.2 697.6L1377.8 717.9L1378.4 743.0L1379.0 763.3L1379.5 771.1L1380.1 765.3L1380.7 750.0L1381.3 731.2L1381.9 715.9L1382.5 710.1L1383.0 717.2L1383.5 735.8L1384.1 758.9L1384.6 777.5L1385.2 784.6L1385.8 775.9L1386.4 753.1L1387.0 725.0L1387.7 702.2L1388.3 693.5L1388.8 703.0L1389.2 727.9L1389.7 758.7L1390.2 783.7L1390.7 793.2L1391.3 782.1L1391.8 753.1L1392.4 717.3L1393.0 688.3L1393.6 677.2L1394.1 690.1L1394.7 723.8L1395.2 765.5L1395.8 799.2L1396.3 812.0L1396.9 801.4L1397.5 773.4L1398.1 738.9L1398.6 711.0L1399.2 700.3L1399.8 707.5L1400.5 726.5L1401.1 749.9L1401.7 768.9L1402.3 776.1L1402.7 769.6L1403.1 752.7L1403.5 731.8L1404.0 714.8L1404.4 708.4L1405.0 713.3L1405.6 726.1L1406.2 742.0L1406.8 754.9L1407.4 759.8L1407.9 755.9L1408.3 745.5L1408.7 732.6L1409.1 722.2L1409.5 718.3L1410.2 723.1L1410.9 735.7L1411.5 751.4L1412.2 764.0L1412.9 768.9L1413.4 763.0L1413.9 747.8L1414.5 728.9L1415.0 713.7L1415.5 707.9L1416.2 714.9L1416.9 733.1L1417.5 755.7L1418.2 773.9L1418.9 780.9L1419.4 772.7L1419.9 751.3L1420.4 724.7L1421.0 703.3L1421.5 695.1L1422.2 705.0L1422.8 731.1L1423.5 763.3L1424.2 789.3L1424.9 799.3L1425.5 788.3L1426.1 759.5L1426.6 723.9L1427.2 695.1L1427.8 684.1L1428.6 696.2L1429.4 728.0L1430.2 767.3L1431.0 799.0L1431.7 811.2L1432.2 798.0L1432.6 763.6L1433.1 721.0L1433.5 686.6L1434.0 673.4L1434.7 686.4L1435.3 720.4L1436.0 762.5L1436.7 796.5L1437.4 809.5L1437.8 797.6L1438.2 766.5L1438.6 728.2L1439.0 697.1L1439.4 685.2L1440.1 697.8L1440.7 730.8L1441.3 771.6L1441.9 804.6L1442.5 817.2L1443.0 801.6L1443.6 760.8L1444.1 710.4L1444.6 669.7L1445.1 654.1L1445.8 669.2L1446.5 708.7L1447.1 757.5L1447.8 797.0L1448.5 812.0L1449.1 801.4L1449.7 773.4L1450.3 738.9L1450.8 711.0L1451.4 700.3L1451.9 707.5L1452.5 726.5L1453.0 749.9L1453.5 768.9L1454.0 776.1L1454.5 769.8L1455.0 753.3L1455.5 732.9L1456.0 716.4L1456.6 710.1L1457.1 717.8L1457.7 738.1L1458.3 763.1L1458.9 783.4L1459.5 791.2L1460.0 780.6L1460.6 752.8L1461.1 718.6L1461.7 690.9L1462.2 680.3L1462.9 691.4L1463.5 720.6L1464.2 756.7L1464.8 785.8L1465.5 797.0L1465.9 789.0L1466.3 768.3L1466.8 742.7L1467.2 721.9L1467.7 714.0L1468.3 719.8L1468.8 735.2L1469.4 754.1L1470.0 769.4L1470.6 775.2L1471.0 766.9L1471.5 745.0L1471.9 718.0L1472.4 696.2L1472.8 687.8L1473.5 696.8L1474.2 720.4L1474.9 749.5L1475.6 773.1L1476.2 782.1L1476.8 774.5L1477.3 754.7L1477.8 730.2L1478.3 710.4L1478.8 702.9L1479.4 710.6L1480.0 730.7L1480.6 755.5L1481.1 775.6L1481.7 783.3L1482.2 775.8L1482.7 756.4L1483.3 732.3L1483.8 712.9L1484.3 705.4L1484.9 712.7L1485.5 731.6L1486.1 755.0L1486.8 774.0L1487.4 781.2L1487.9 773.0L1488.4 751.5L1488.9 724.9L1489.4 703.4L1489.9 695.2L1490.5 705.5L1491.2 732.6L1491.8 766.1L1492.4 793.1L1493.0 803.5L1493.6 790.3L1494.2 755.8L1494.8 713.2L1495.3 678.7L1495.9 665.6L1496.5 681.4L1497.2 723.0L1497.8 774.3L1498.4 815.8L1499.0 831.7L1499.6 813.4L1500.2 765.6L1500.7 706.5L1501.3 658.7L1501.9 640.4L1502.5 661.5L1503.1 716.6L1503.8 784.7L1504.4 839.8L1505.0 860.8L1505.6 839.2L1506.2 782.8L1506.7 713.0L1507.3 656.5L1507.9 634.9L1508.4 654.2L1508.9 704.7L1509.4 767.1L1510.0 817.6L1510.5 836.8L1511.1 819.4L1511.6 773.7L1512.2 717.2L1512.8 671.5L1513.4 654.1L1513.9 669.9L1514.5 711.3L1515.0 762.5L1515.6 803.9L1516.1 819.7L1516.7 805.7L1517.3 769.1L1517.9 723.9L1518.4 687.3L1519.0 673.3L1519.5 686.3L1520.1 720.4L1520.6 762.6L1521.1 796.8L1521.6 809.8L1522.2 798.3L1522.8 768.0L1523.3 730.6L1523.9 700.4L1524.5 688.8L1525.1 698.4L1525.7 723.4L1526.4 754.3L1527.0 779.4L1527.6 788.9L1528.1 779.6L1528.6 755.1L1529.1 724.8L1529.6 700.3L1530.2 690.9L1530.7 701.4L1531.3 728.7L1531.9 762.6L1532.5 789.9L1533.1 800.4L1533.7 790.8L1534.3 765.5L1534.9 734.3L1535.5 709.1L1536.1 699.5L1536.8 705.6L1537.4 721.9L1538.0 741.9L1538.6 758.1L1539.2 764.3L1539.8 761.0L1540.4 752.3L1541.0 741.5L1541.6 732.7L1542.1 729.4L1542.6 732.6L1543.0 740.8L1543.5 751.0L1543.9 759.2L1544.4 762.4L1544.9 758.6L1545.5 748.8L1546.1 736.7L1546.7 726.8L1547.3 723.1L1548.2 726.2L1549.1 734.5L1550.0 744.7L1551.0 752.9L1551.9 756.0L1552.4 752.3L1552.9 742.6L1553.4 730.6L1553.9 720.9L1554.5 717.2L1555.2 723.3L1556.0 739.2L1556.8 758.9L1557.6 774.8L1558.4 780.9L1559.1 773.6L1559.8 754.5L1560.4 731.0L1561.1 711.9L1561.8 704.6L1562.3 711.7L1562.8 730.2L1563.4 753.1L1563.9 771.6L1564.4 778.7L1564.9 771.3L1565.4 751.9L1565.9 727.9L1566.4 708.5L1566.9 701.1L1567.7 710.3L1568.5 734.4L1569.3 764.2L1570.1 788.3L1570.9 797.5L1571.3 787.5L1571.7 761.4L1572.1 729.2L1572.5 703.1L1572.9 693.1L1573.6 701.9L1574.3 724.8L1575.0 753.0L1575.7 775.9L1576.4 784.7L1577.0 777.6L1577.7 759.2L1578.4 736.4L1579.1 717.9L1579.8 710.9L1580.5 716.7L1581.2 732.0L1581.9 750.9L1582.6 766.2L1583.3 772.1L1583.9 767.5L1584.5 755.4L1585.1 740.6L1585.7 728.5L1586.3 724.0L1586.9 726.9L1587.6 734.7L1588.2 744.4L1588.8 752.2L1589.5 755.1L1590.2 751.3L1591.0 741.4L1591.8 729.1L1592.6 719.2L1593.3 715.4L1593.7 720.6L1594.1 734.4L1594.5 751.4L1594.9 765.1L1595.2 770.4L1596.0 765.7L1596.8 753.4L1597.6 738.1L1598.3 725.8L1599.1 721.1L1599.6 724.7L1600.1 734.2L1600.6 745.9L1601.1 755.4L1601.7 759.0L1602.3 756.4L1602.9 749.6L1603.6 741.2L1604.2 734.4L1604.9 731.8L1605.4 733.8L1605.9 738.8L1606.4 745.0L1606.9 750.0L1607.4 752.0L1608.1 749.9L1608.7 744.6L1609.3 737.9L1610.0 732.5L1610.6 730.5L1611.2 733.0L1611.8 739.7L1612.4 747.9L1613.0 754.6L1613.6 757.2L1614.1 754.9L1614.7 749.1L1615.3 741.9L1615.8 736.1L1616.4 733.9L1617.2 735.7L1617.9 740.4L1618.7 746.3L1619.5 751.1L1620.2 752.9L1620.5 751.2L1620.8 746.8L1621.0 741.3L1621.3 736.9L1621.5 735.2L1621.9 736.1L1622.3 738.4L1622.7 741.2L1623.1 743.5L1623.4 744.4L1623.8 743.3L1624.2 740.3L1624.6 736.7L1625.0 733.8L1625.4 732.7L1625.8 734.6L1626.1 739.8L1626.5 746.1L1626.9 751.3L1627.3 753.2L1628.1 750.5L1628.8 743.2L1629.6 734.3L1630.4 727.1L1631.1 724.3L1631.8 729.5L1632.4 743.0L1633.1 759.6L1633.7 773.1L1634.3 778.2L1634.9 771.0L1635.5 752.0L1636.1 728.5L1636.7 709.5L1637.3 702.3L1637.9 709.3L1638.4 727.5L1639.0 750.1L1639.6 768.3L1640.1 775.3L1640.8 769.3L1641.4 753.5L1642.0 734.0L1642.7 718.2L1643.3 712.2L1643.8 717.2L1644.3 730.6L1644.9 747.0L1645.4 760.3L1645.9 765.4L1646.3 760.9L1646.8 749.1L1647.2 734.5L1647.6 722.7L1648.1 718.2L1648.7 723.4L1649.2 737.2L1649.8 754.1L1650.4 767.9L1651.0 773.1L1651.6 767.4L1652.2 752.5L1652.8 734.1L1653.4 719.1L1654.0 713.4L1654.4 719.3L1654.9 734.5L1655.4 753.3L1655.9 768.6L1656.4 774.4L1657.0 768.6L1657.6 753.6L1658.2 735.1L1658.8 720.1L1659.3 714.3L1659.9 720.2L1660.5 735.4L1661.0 754.2L1661.6 769.5L1662.2 775.3L1662.7 770.1L1663.2 756.6L1663.7 739.8L1664.2 726.3L1664.7 721.1L1665.7 724.7L1666.6 734.0L1667.5 745.6L1668.4 754.9L1669.3 758.5L1670.0 755.8L1670.7 748.7L1671.4 739.9L1672.1 732.8L1672.8 730.1L1673.6 732.3L1674.3 738.0L1675.1 745.0L1675.9 750.7L1676.7 752.9L1677.3 751.3L1677.9 747.2L1678.6 742.1L1679.2 737.9L1679.9 736.4L1680.1 737.2L1680.4 739.3L1680.6 742.0L1680.9 744.2L1681.1 745.0L1681.8 743.9L1682.5 740.9L1683.2 737.3L1683.9 734.4L1684.6 733.3L1684.9 736.7L1685.3 745.5L1685.6 756.4L1685.9 765.2L1686.3 768.6L1687.2 763.6L1688.1 750.4L1689.0 734.1L1689.9 720.9L1690.8 715.8L1691.3 720.7L1691.8 733.5L1692.3 749.3L1692.8 762.1L1693.3 767.0L1694.0 762.4L1694.6 750.4L1695.2 735.5L1695.9 723.5L1696.5 718.9L1697.0 724.4L1697.6 738.8L1698.1 756.6L1698.6 771.1L1699.1 776.6L1699.7 770.5L1700.4 754.8L1701.0 735.3L1701.7 719.6L1702.3 713.6L1702.8 718.5L1703.3 731.4L1703.8 747.4L1704.3 760.3L1704.9 765.3L1705.5 760.7L1706.1 748.9L1706.8 734.2L1707.4 722.3L1708.1 717.7L1708.5 723.3L1709.0 738.0L1709.4 756.1L1709.9 770.7L1710.4 776.3L1711.0 769.1L1711.6 750.1L1712.2 726.6L1712.8 707.6L1713.4 700.4L1714.0 708.0L1714.5 728.1L1715.1 753.0L1715.6 773.1L1716.1 780.8L1716.7 774.1L1717.2 756.5L1717.7 734.8L1718.2 717.2L1718.7 710.5L1719.3 717.0L1719.8 733.9L1720.4 754.8L1721.0 771.8L1721.5 778.2L1722.1 771.2L1722.7 752.7L1723.2 729.8L1723.8 711.3L1724.3 704.2L1725.0 711.0L1725.6 728.8L1726.3 750.7L1726.9 768.5L1727.6 775.3L1728.1 769.4L1728.6 754.1L1729.1 735.2L1729.6 719.9L1730.1 714.1L1730.7 719.5L1731.3 733.6L1731.9 751.0L1732.5 765.1L1733.1 770.5L1733.6 765.4L1734.1 751.8L1734.6 735.0L1735.1 721.4L1735.6 716.3L1736.2 720.9L1736.8 732.9L1737.3 747.8L1737.9 759.9L1738.4 764.5L1739.0 760.5L1739.6 749.9L1740.2 736.8L1740.8 726.2L1741.4 722.2L1741.9 726.2L1742.4 736.7L1742.9 749.6L1743.4 760.1L1744.0 764.1L1744.5 760.0L1745.1 749.1L1745.7 735.6L1746.2 724.7L1746.8 720.5L1747.4 724.8L1748.0 736.0L1748.6 749.9L1749.1 761.1L1749.7 765.4L1750.2 761.2L1750.8 750.1L1751.3 736.4L1751.8 725.4L1752.3 721.1L1752.9 725.2L1753.4 735.8L1754.0 748.9L1754.6 759.4L1755.1 763.5L1755.6 759.7L1756.0 749.8L1756.5 737.6L1757.0 727.7L1757.4 723.9L1758.0 727.1L1758.6 735.2L1759.2 745.2L1759.8 753.3L1760.4 756.4L1760.9 753.5L1761.5 745.9L1762.1 736.5L1762.6 728.9L1763.2 726.0L1763.7 728.9L1764.2 736.5L1764.7 745.9L1765.2 753.5L1765.8 756.4L1766.0 754.6L1766.3 749.8L1766.5 743.8L1766.8 739.0L1767.0 737.2L1767.8 738.0L1768.6 740.2L1769.3 743.0L1770.1 745.2L1770.9 746.1L1771.1 744.7L1771.2 740.9L1771.4 736.3L1771.6 732.5L1771.8 731.1L1772.7 732.9L1773.6 737.7L1774.5 743.7L1775.4 748.5L1776.3 750.4L1776.6 749.1L1776.9 745.5L1777.3 741.2L1777.6 737.7L1777.9 736.4L1778.6 737.3L1779.2 739.9L1779.9 743.1L1780.5 745.7L1781.1 746.7L1781.6 745.4L1782.1 742.2L1782.5 738.3L1783.0 735.1L1783.4 733.9L1784.0 736.1L1784.6 742.0L1785.1 749.3L1785.7 755.1L1786.3 757.4L1787.0 754.9L1787.8 748.3L1788.6 740.2L1789.3 733.6L1790.1 731.1L1790.6 733.2L1791.1 738.9L1791.7 745.9L1792.2 751.6L1792.7 753.8L1793.3 751.7L1794.0 746.2L1794.6 739.4L1795.2 733.9L1795.9 731.8L1796.4 734.3L1796.9 740.6L1797.4 748.4L1797.9 754.7L1798.4 757.2L1799.1 754.0L1799.7 745.7L1800.4 735.4L1801.0 727.1L1801.7 724.0L1802.1 727.5L1802.6 736.7L1803.0 748.0L1803.5 757.3L1804.0 760.8L1804.6 757.3L1805.2 748.4L1805.9 737.3L1806.5 728.3L1807.2 724.9L1807.7 727.6L1808.3 734.7L1808.9 743.6L1809.4 750.7L1810.0 753.4L1810.6 751.8L1811.1 747.6L1811.7 742.4L1812.2 738.2L1812.8 736.6L1813.4 737.3L1814.0 739.3L1814.6 741.7L1815.2 743.7L1815.8 744.5L1816.1 743.4L1816.5 740.6L1816.9 737.2L1817.3 734.4L1817.7 733.3L1818.7 735.8L1819.6 742.2L1820.6 750.2L1821.6 756.6L1822.6 759.1L1823.2 756.0L1823.9 748.1L1824.6 738.3L1825.3 730.4L1826.0 727.3L1826.5 730.0L1827.0 736.9L1827.6 745.5L1828.1 752.5L1828.6 755.1L1829.1 752.3L1829.7 744.9L1830.3 735.8L1830.8 728.5L1831.4 725.6L1832.0 728.8L1832.6 736.9L1833.2 747.0L1833.8 755.2L1834.3 758.3L1835.0 755.6L1835.6 748.6L1836.3 739.9L1836.9 732.8L1837.6 730.2L1838.1 732.9L1838.7 740.1L1839.2 749.1L1839.8 756.3L1840.4 759.1L1841.0 755.6L1841.6 746.4L1842.1 735.0L1842.7 725.8L1843.3 722.3L1843.8 726.5L1844.3 737.4L1844.9 751.0L1845.4 762.0L1845.9 766.2L1846.5 761.6L1847.1 749.6L1847.7 734.9L1848.2 722.9L1848.8 718.3L1849.5 723.2L1850.1 736.1L1850.8 752.0L1851.4 764.9L1852.0 769.8L1852.6 764.3L1853.2 749.9L1853.8 732.1L1854.4 717.7L1855.0 712.2L1855.6 717.8L1856.3 732.5L1856.9 750.6L1857.6 765.3L1858.2 770.9L1858.8 765.8L1859.3 752.4L1859.9 735.7L1860.4 722.3L1861.0 717.2L1861.5 721.7L1861.9 733.4L1862.4 747.9L1862.9 759.7L1863.3 764.2L1864.1 759.7L1864.9 747.9L1865.6 733.4L1866.4 721.7L1867.2 717.2L1867.7 723.2L1868.2 738.9L1868.7 758.3L1869.2 774.0L1869.7 779.9L1870.4 772.6L1871.0 753.5L1871.7 729.9L1872.3 710.7L1872.9 703.4L1873.5 711.0L1874.1 731.0L1874.6 755.7L1875.2 775.7L1875.8 783.3L1876.3 775.8L1876.9 756.1L1877.5 731.8L1878.1 712.1L1878.7 704.5L1879.3 711.8L1879.9 730.9L1880.5 754.5L1881.1 773.6L1881.7 780.9L1882.2 773.4L1882.8 753.8L1883.3 729.6L1883.9 710.0L1884.5 702.5L1885.1 710.0L1885.7 729.6L1886.2 753.8L1886.8 773.4L1887.4 780.9L1888.0 773.5L1888.6 754.4L1889.1 730.7L1889.7 711.5L1890.2 704.2L1890.8 712.2L1891.3 733.2L1891.8 759.1L1892.3 780.1L1892.8 788.1L1893.4 779.4L1893.9 756.5L1894.5 728.3L1895.1 705.5L1895.6 696.8L1896.3 704.7L1896.9 725.6L1897.6 751.3L1898.2 772.2L1898.8 780.2L1899.4 773.8L1899.9 757.3L1900.4 736.9L1901.0 720.4L1901.5 714.1L1902.0 718.9L1902.4 731.6L1902.8 747.3L1903.3 759.9L1903.7 764.8L1904.3 760.8L1905.0 750.6L1905.6 737.9L1906.3 727.6L1906.9 723.7L1907.3 727.2L1907.7 736.6L1908.1 748.1L1908.4 757.4L1908.8 760.9L1909.5 757.3L1910.1 747.8L1910.8 736.1L1911.4 726.7L1912.0 723.1L1912.6 727.0L1913.1 737.2L1913.6 749.9L1914.1 760.2L1914.6 764.1L1915.2 760.4L1915.8 750.8L1916.4 738.9L1917.0 729.3L1917.6 725.6L1918.1 728.6L1918.7 736.5L1919.2 746.2L1919.8 754.1L1920.4 757.1L1920.9 754.5L1921.4 747.7L1921.9 739.3L1922.4 732.4L1922.9 729.8L1923.4 732.3L1924.0 738.8L1924.5 746.8L1925.0 753.3L1925.5 755.8L1925.9 753.5L1926.3 747.4L1926.7 740.0L1927.0 733.9L1927.4 731.6L1927.8 733.5L1928.2 738.4L1928.6 744.4L1929.0 749.3L1929.3 751.2L1929.9 749.5L1930.4 745.2L1930.9 739.9L1931.4 735.6L1931.9 733.9L1932.4 735.5L1932.9 739.5L1933.4 744.5L1934.0 748.5L1934.5 750.1L1935.1 748.3L1935.7 743.8L1936.2 738.1L1936.8 733.6L1937.4 731.8L1938.0 733.9L1938.6 739.1L1939.1 745.6L1939.7 750.9L1940.2 752.9L1940.8 751.1L1941.4 746.5L1941.9 740.7L1942.5 736.1L1943.1 734.3L1943.7 736.1L1944.2 740.7L1944.8 746.5L1945.4 751.1L1946.0 752.9L1946.6 751.0L1947.2 745.9L1947.8 739.7L1948.4 734.7L1949.0 732.8L1949.5 734.6L1950.1 739.4L1950.7 745.3L1951.2 750.1L1951.8 752.0L1952.3 750.0L1952.9 744.9L1953.5 738.7L1954.0 733.6L1954.6 731.6L1955.3 733.8L1955.9 739.5L1956.6 746.6L1957.3 752.4L1957.9 754.6L1958.6 752.2L1959.2 746.1L1959.8 738.6L1960.4 732.5L1961.0 730.2L1961.5 732.4L1962.0 738.2L1962.6 745.4L1963.1 751.2L1963.6 753.4L1964.2 751.5L1964.8 746.3L1965.3 739.9L1965.9 734.7L1966.5 732.8L1967.1 735.1L1967.7 741.2L1968.3 748.7L1968.9 754.8L1969.5 757.2L1970.0 754.2L1970.6 746.3L1971.2 736.5L1971.7 728.7L1972.3 725.6L1972.9 729.0L1973.4 737.8L1974.0 748.6L1974.6 757.4L1975.1 760.8L1975.8 757.5L1976.4 748.8L1977.1 738.1L1977.8 729.5L1978.4 726.2L1979.0 729.1L1979.6 736.5L1980.1 745.7L1980.7 753.2L1981.3 756.0L1981.8 753.7L1982.4 747.5L1983.0 739.8L1983.5 733.6L1984.1 731.3L1984.7 733.4L1985.3 739.1L1985.9 746.0L1986.4 751.6L1987.0 753.8L1987.8 751.7L1988.6 746.2L1989.3 739.4L1990.1 733.9L1990.9 731.8L1991.4 733.8L1991.9 738.8L1992.4 745.0L1992.9 750.0L1993.4 752.0L1994.0 750.0L1994.6 744.9L1995.2 738.7L1995.8 733.6L1996.4 731.6L1997.0 733.9L1997.7 739.9L1998.3 747.4L1999.0 753.4L1999.6 755.7L2000.3 753.1L2001.0 746.2L2001.7 737.7L2002.4 730.8L2003.1 728.1L2003.6 731.0L2004.1 738.5L2004.6 747.9L2005.1 755.4L2005.6 758.3L2006.2 755.3L2006.8 747.6L2007.4 738.0L2008.0 730.3L2008.6 727.3L2009.3 730.0L2010.0 737.0L2010.7 745.7L2011.3 752.7L2012.0 755.4L2012.7 752.8L2013.3 746.0L2014.0 737.6L2014.6 730.8L2015.2 728.2L2015.9 730.8L2016.5 737.3L2017.2 745.5L2017.8 752.1L2018.4 754.6L2019.1 752.8L2019.7 748.2L2020.4 742.5L2021.0 737.9L2021.7 736.1L2022.3 737.1L2022.9 739.8L2023.6 743.0L2024.2 745.7L2024.9 746.7L2025.5 746.0L2026.1 744.2L2026.8 742.0L2027.4 740.2L2028.1 739.5L2028.7 740.2L2029.3 742.0L2030.0 744.2L2030.6 746.0L2031.3 746.7L2031.9 745.8L2032.6 743.6L2033.2 740.8L2033.8 738.6L2034.5 737.7L2035.2 738.9L2036.0 741.8L2036.8 745.5L2037.6 748.5L2038.3 749.6L2039.0 748.3L2039.6 744.9L2040.2 740.6L2040.9 737.2L2041.5 735.9L2042.0 737.1L2042.6 740.2L2043.1 744.0L2043.6 747.2L2044.1 748.4L2044.6 747.2L2045.1 744.1L2045.6 740.4L2046.1 737.3L2046.7 736.1L2047.3 737.1L2047.9 739.6L2048.6 742.7L2049.2 745.2L2049.9 746.1L2050.4 745.5L2050.9 743.8L2051.4 741.7L2051.9 740.0L2052.4 739.3L2053.1 739.9L2053.7 741.5L2054.3 743.4L2055.0 744.9L2055.6 745.5L2056.3 745.1L2056.9 743.8L2057.6 742.3L2058.2 741.1L2058.8 740.6L2059.5 741.0L2060.1 742.0L2060.8 743.2L2061.4 744.2L2062.0 744.5L2062.8 744.6L2063.5 744.6L2064.3 744.7L2065.0 744.8L2065.7 744.8L2066.3 745.2L2066.9 746.2L2067.4 747.4L2068.0 748.4L2068.5 748.8L2069.1 748.4L2069.7 747.4L2070.2 746.2L2070.8 745.2L2071.4 744.8L2072.0 745.4L2072.6 747.0L2073.1 749.0L2073.7 750.6L2074.3 751.2L2074.9 750.7L2075.6 749.4L2076.2 747.7L2076.8 746.4L2077.5 745.9L2078.1 747.0L2078.8 749.9L2079.4 753.4L2080.1 756.3L2080.8 757.4L2081.3 756.5L2081.9 754.1L2082.5 751.2L2083.1 748.8L2083.7 747.9L2084.2 748.9L2084.8 751.5L2085.4 754.7L2086.0 757.3L2086.6 758.3L2087.3 757.4L2088.0 755.0L2088.7 752.1L2089.4 749.7L2090.1 748.8L2090.9 749.5L2091.7 751.4L2092.6 753.8L2093.4 755.7L2094.2 756.4L2094.7 755.6L2095.3 753.5L2095.9 750.8L2096.4 748.7L2097.0 747.9L2097.4 748.2L2097.9 749.1L2098.4 750.1L2098.9 750.9L2099.3 751.2L2099.9 749.9L2100.4 746.5L2100.9 742.3L2101.4 738.9L2102.0 737.6L2102.4 737.5L2102.8 737.3L2103.2 737.0L2103.6 736.8L2104.1 736.7L2104.7 734.7L2105.2 729.3L2105.8 722.6L2106.4 717.2L2107.0 715.1L2107.9 713.5L2108.8 709.1L2109.7 703.6L2110.6 699.2L2111.4 697.5L2111.7 699.6L2111.9 705.2L2112.1 712.0L2112.3 717.5L2112.5 719.6"/>
<path stroke="#f00" d="M267.7 741.9L268.3 742.1L268.9 742.5L269.4 743.0L270.0 743.5L270.6 743.7L271.2 743.5L271.8 743.0L272.3 742.5L272.9 742.0L273.5 741.8L274.1 742.0L274.7 742.5L275.2 743.1L275.8 743.6L276.4 743.8L277.0 743.6L277.6 743.1L278.1 742.5L278.7 742.0L279.3 741.8L279.9 742.0L280.4 742.5L281.0 743.1L281.6 743.6L282.2 743.8L282.8 743.6L283.3 743.2L283.9 742.7L284.5 742.4L285.1 742.2L285.7 742.3L286.2 742.7L286.8 743.1L287.4 743.4L288.0 743.5L288.6 743.4L289.1 742.9L289.7 742.3L290.3 741.9L290.9 741.7L291.5 741.9L292.0 742.4L292.6 743.0L293.2 743.5L293.8 743.6L294.4 743.5L294.9 743.0L295.5 742.4L296.1 741.9L296.7 741.7L297.3 741.9L297.8 742.3L298.4 742.8L299.0 743.2L299.6 743.4L300.2 743.2L300.7 742.9L301.3 742.4L301.9 742.0L302.5 741.9L303.1 742.1L303.6 742.4L304.2 742.9L304.8 743.3L305.4 743.5L305.9 743.3L306.5 742.9L307.1 742.4L307.7 742.0L308.3 741.8L308.8 742.0L309.4 742.5L310.0 743.1L310.6 743.6L311.2 743.8L311.7 743.6L312.3 743.2L312.9 742.7L313.5 742.2L314.1 742.1L314.6 742.2L315.2 742.6L315.8 743.1L316.4 743.4L317.0 743.6L317.5 743.4L318.1 743.0L318.7 742.4L319.3 742.0L319.9 741.8L320.4 742.1L321.0 742.6L321.6 743.4L322.2 744.0L322.8 744.2L323.3 743.9L323.9 743.2L324.5 742.3L325.1 741.6L325.7 741.3L326.2 741.6L326.8 742.2L327.4 742.9L328.0 743.5L328.5 743.7L329.1 743.5L329.7 742.8L330.3 742.0L330.9 741.4L331.4 741.1L332.0 741.4L332.6 742.1L333.2 742.9L333.8 743.6L334.3 743.8L334.9 743.6L335.5 742.9L336.1 742.1L336.7 741.4L337.2 741.1L337.8 741.4L338.4 742.1L339.0 743.0L339.6 743.7L340.1 744.0L340.7 743.7L341.3 743.1L341.9 742.4L342.5 741.8L343.0 741.6L343.6 741.9L344.2 742.8L344.8 743.8L345.4 744.7L345.9 745.0L346.5 744.7L347.1 743.7L347.7 742.5L348.3 741.6L348.8 741.2L349.4 741.5L350.0 742.3L350.6 743.3L351.1 744.1L351.7 744.4L352.8 744.1L353.9 743.3L354.9 742.2L356.0 741.4L357.0 741.1L357.0 741.4L357.0 742.3L357.0 743.4L357.0 744.2L357.0 744.6L357.5 744.3L358.1 743.7L358.6 743.0L359.1 742.3L359.6 742.1L360.1 742.5L360.6 743.5L361.1 744.7L361.7 745.7L362.2 746.1L362.3 745.4L362.4 743.8L362.5 741.8L362.7 740.2L362.8 739.6L363.7 740.8L364.6 743.9L365.5 747.8L366.4 751.0L367.3 752.2L367.5 750.7L367.8 746.7L368.1 741.7L368.3 737.7L368.6 736.1L369.9 737.8L371.1 742.1L372.4 747.5L373.7 751.8L375.0 753.5L375.5 751.2L376.0 745.1L376.5 737.5L377.0 731.4L377.5 729.1L378.3 731.7L379.1 738.4L379.9 746.7L380.6 753.5L381.4 756.1L381.8 754.1L382.2 749.2L382.5 743.0L382.9 738.0L383.3 736.1L384.0 738.0L384.6 743.0L385.2 749.2L385.9 754.1L386.5 756.1L386.9 753.0L387.3 745.0L387.7 735.0L388.1 727.0L388.4 723.9L389.1 727.3L389.7 736.1L390.4 747.1L391.0 755.9L391.7 759.3L392.4 756.4L393.2 749.1L394.0 739.9L394.7 732.5L395.5 729.7L396.0 733.0L396.5 741.5L397.0 752.0L397.5 760.5L398.1 763.7L398.7 760.2L399.3 751.1L400.0 739.8L400.6 730.6L401.3 727.2L401.9 729.3L402.5 734.9L403.2 741.9L403.8 747.5L404.5 749.6L404.7 747.9L405.0 743.4L405.2 737.9L405.5 733.4L405.8 731.6L406.7 734.0L407.5 740.1L408.4 747.6L409.3 753.7L410.2 756.1L410.8 753.4L411.3 746.3L411.8 737.6L412.3 730.5L412.8 727.8L413.4 730.4L414.1 737.3L414.7 745.9L415.4 752.8L416.0 755.4L416.7 753.1L417.3 747.2L417.9 739.9L418.6 733.9L419.2 731.6L419.6 733.6L420.0 738.7L420.4 745.1L420.8 750.2L421.1 752.2L421.9 750.9L422.7 747.3L423.4 742.9L424.2 739.4L425.0 738.1L425.2 739.0L425.5 741.6L425.8 744.8L426.0 747.4L426.3 748.4L427.0 747.2L427.8 744.1L428.6 740.4L429.3 737.3L430.1 736.1L430.5 737.8L430.9 742.1L431.3 747.5L431.7 751.8L432.0 753.5L432.8 751.8L433.6 747.5L434.3 742.1L435.1 737.8L435.9 736.1L436.1 737.8L436.4 742.1L436.7 747.5L436.9 751.8L437.2 753.5L437.7 751.8L438.2 747.5L438.7 742.1L439.2 737.8L439.7 736.1L440.2 738.2L440.8 743.7L441.3 750.4L441.8 755.9L442.3 758.0L442.9 755.3L443.6 748.4L444.2 739.9L444.9 733.0L445.5 730.4L446.0 733.1L446.5 740.1L447.0 748.9L447.5 755.9L448.1 758.6L448.8 755.8L449.4 748.4L450.1 739.3L450.8 731.9L451.5 729.1L452.1 733.7L452.7 745.9L453.3 761.0L453.9 773.2L454.5 777.8L455.1 771.0L455.7 753.0L456.2 730.8L456.8 712.9L457.4 706.0L458.0 713.2L458.7 732.2L459.3 755.5L459.9 774.5L460.5 781.7L461.1 773.7L461.7 752.9L462.3 727.1L462.9 706.3L463.4 698.3L464.0 704.8L464.5 721.8L465.0 742.8L465.5 759.8L466.0 766.3L466.5 762.3L467.0 751.9L467.5 739.0L468.1 728.6L468.6 724.6L469.1 728.2L469.6 737.7L470.1 749.4L470.6 758.8L471.1 762.5L471.8 760.0L472.4 753.6L473.1 745.6L473.7 739.2L474.3 736.8L474.9 737.5L475.4 739.5L475.9 741.9L476.4 743.8L476.9 744.6L477.5 743.8L478.0 741.7L478.6 739.0L479.2 736.9L479.7 736.1L480.3 737.5L480.9 741.2L481.5 745.8L482.1 749.5L482.7 750.9L483.2 749.2L483.7 744.7L484.2 739.1L484.7 734.6L485.2 732.9L485.9 734.9L486.5 740.0L487.2 746.4L487.8 751.5L488.4 753.5L489.1 751.3L489.7 745.5L490.4 738.3L491.0 732.6L491.7 730.4L492.5 732.9L493.4 739.5L494.3 747.6L495.2 754.2L496.1 756.7L496.8 754.4L497.4 748.3L498.1 740.7L498.7 734.6L499.3 732.3L499.9 734.8L500.4 741.5L500.9 749.8L501.4 756.4L502.0 759.0L502.4 755.4L502.9 746.0L503.4 734.4L503.9 725.0L504.3 721.4L505.0 725.7L505.7 736.9L506.5 750.7L507.2 761.8L507.9 766.1L508.4 761.2L509.0 748.6L509.6 733.0L510.1 720.4L510.7 715.5L511.3 720.2L511.9 732.6L512.5 747.8L513.2 760.2L513.8 764.9L514.2 761.4L514.7 752.3L515.2 741.1L515.7 732.0L516.1 728.5L516.8 731.0L517.6 737.4L518.3 745.4L519.0 751.8L519.7 754.3L520.2 749.9L520.6 738.4L521.1 724.3L521.6 712.8L522.0 708.4L522.6 715.3L523.2 733.3L523.7 755.4L524.3 773.4L524.9 780.2L525.5 772.5L526.1 752.2L526.7 727.1L527.3 706.8L527.9 699.0L528.4 708.0L528.9 731.6L529.4 760.7L529.8 784.2L530.3 793.2L531.0 783.8L531.7 759.0L532.4 728.5L533.1 703.7L533.9 694.3L534.3 704.2L534.8 730.1L535.3 762.1L535.7 788.1L536.2 798.0L536.8 786.5L537.4 756.6L537.9 719.6L538.5 689.6L539.1 678.2L539.7 689.9L540.3 720.4L540.9 758.1L541.5 788.7L542.1 800.3L542.6 790.5L543.1 764.9L543.5 733.2L544.0 707.6L544.5 697.8L545.2 707.2L545.9 731.6L546.6 761.8L547.3 786.3L548.0 795.6L548.5 781.5L549.0 744.7L549.4 699.1L549.9 662.3L550.4 648.2L551.1 666.2L551.8 713.2L552.5 771.3L553.2 818.3L553.9 836.2L554.4 820.4L554.9 779.0L555.4 727.9L555.8 686.5L556.3 670.6L557.0 686.0L557.7 726.1L558.4 775.6L559.1 815.7L559.8 831.0L560.3 815.6L560.8 775.2L561.3 725.3L561.7 684.9L562.2 669.5L562.8 683.8L563.4 721.2L564.0 767.5L564.7 804.9L565.3 819.2L565.8 806.7L566.4 774.0L567.0 733.6L567.5 700.9L568.1 688.4L568.6 697.7L569.1 722.2L569.5 752.4L570.0 776.8L570.5 786.2L571.0 778.6L571.6 758.9L572.2 734.5L572.7 714.8L573.3 707.3L573.9 712.8L574.5 727.2L575.1 745.0L575.8 759.4L576.4 764.9L576.9 757.6L577.5 738.5L578.1 714.8L578.6 695.7L579.2 688.4L579.7 697.6L580.2 721.7L580.6 751.6L581.1 775.7L581.6 785.0L582.2 777.6L582.8 758.1L583.4 734.1L584.0 714.7L584.6 707.3L585.2 713.7L585.8 730.4L586.3 751.2L586.9 767.9L587.5 774.3L588.1 763.8L588.7 736.1L589.3 701.8L589.9 674.1L590.6 663.6L591.0 677.5L591.5 714.1L592.0 759.3L592.4 795.8L592.9 809.8L593.5 796.9L594.0 763.3L594.6 721.8L595.2 688.2L595.7 675.4L596.4 690.4L597.0 729.6L597.6 778.0L598.2 817.2L598.8 832.2L599.4 814.6L600.0 768.6L600.7 711.8L601.3 665.8L601.9 648.2L602.6 664.8L603.2 708.1L603.9 761.7L604.5 805.0L605.2 821.6L605.7 807.3L606.2 769.8L606.8 723.6L607.3 686.1L607.8 671.8L608.4 682.0L608.9 708.5L609.5 741.2L610.1 767.8L610.6 777.9L611.2 772.5L611.8 758.4L612.3 740.9L612.9 726.8L613.5 721.4L614.1 727.4L614.7 743.0L615.3 762.2L615.9 777.8L616.5 783.8L617.1 773.6L617.7 746.7L618.2 713.6L618.8 686.8L619.4 676.6L620.0 687.0L620.6 714.4L621.2 748.3L621.8 775.7L622.4 786.2L623.0 775.3L623.6 747.1L624.1 712.1L624.7 683.8L625.3 673.0L625.9 691.5L626.5 740.0L627.1 799.9L627.7 848.4L628.4 866.9L628.9 844.5L629.5 785.7L630.1 713.0L630.6 654.1L631.2 631.7L631.8 656.1L632.4 719.9L633.0 798.8L633.6 862.6L634.3 887.0L635.0 857.1L635.7 778.8L636.4 682.0L637.1 603.7L637.8 573.8L638.4 602.8L639.0 678.6L639.6 772.3L640.3 848.1L640.9 877.1L641.5 854.3L642.2 794.8L642.9 721.1L643.5 661.5L644.2 638.8L644.8 658.0L645.4 708.5L646.0 770.8L646.6 821.2L647.2 840.5L647.9 817.4L648.5 756.9L649.1 682.2L649.7 621.7L650.3 598.6L651.0 622.4L651.6 684.6L652.3 761.6L653.0 823.8L653.6 847.6L654.1 829.8L654.7 783.2L655.2 725.6L655.7 679.0L656.2 661.2L656.9 677.1L657.5 718.7L658.2 770.0L658.9 811.6L659.5 827.5L660.0 810.2L660.5 765.0L661.0 709.1L661.4 663.8L661.9 646.6L662.7 662.6L663.4 704.6L664.2 756.5L664.9 798.5L665.7 814.5L666.0 802.0L666.3 769.3L666.7 728.9L667.0 696.1L667.3 683.6L667.8 690.9L668.3 709.9L668.7 733.4L669.2 752.5L669.7 759.7L670.2 753.1L670.6 735.9L671.1 714.6L671.6 697.3L672.1 690.7L672.1 702.4L672.1 733.1L672.1 771.0L672.1 801.6L672.1 813.3L672.5 804.8L673.0 782.5L673.5 755.0L673.9 732.8L674.4 724.2L674.9 731.4L675.4 750.1L675.8 773.3L676.3 792.0L676.8 799.1L677.3 788.7L677.7 761.3L678.2 727.4L678.7 700.0L679.1 689.5L679.6 696.5L680.1 714.8L680.6 737.3L681.0 755.6L681.5 762.5L682.4 755.5L683.4 737.1L684.3 714.3L685.3 695.9L686.2 688.8L686.6 700.2L686.9 729.8L687.2 766.4L687.6 796.1L687.9 807.4L688.9 795.9L690.0 765.8L691.0 728.6L692.1 698.5L693.1 687.0L693.7 700.6L694.4 736.0L695.0 779.9L695.6 815.3L696.3 828.9L696.9 800.5L697.5 726.2L698.2 634.4L698.8 560.1L699.4 531.7L700.0 573.4L700.5 682.7L701.0 817.7L701.5 926.9L702.1 968.6L702.7 928.3L703.4 822.8L704.0 692.4L704.7 586.9L705.4 546.5L705.8 579.6L706.3 666.0L706.7 772.8L707.2 859.2L707.6 892.2L708.1 867.6L708.7 803.1L709.2 723.3L709.7 658.8L710.2 634.2L710.8 654.9L711.3 709.2L711.8 776.3L712.3 830.6L712.9 851.3L713.5 827.1L714.2 763.8L714.8 685.5L715.5 622.2L716.2 598.0L716.7 634.2L717.2 729.2L717.7 846.6L718.2 941.5L718.7 977.8L719.4 932.9L720.0 815.3L720.7 669.9L721.4 552.3L722.1 507.4L722.6 547.1L723.0 651.2L723.5 779.9L724.0 884.0L724.5 923.8L725.0 900.2L725.6 838.6L726.2 762.5L726.8 700.9L727.4 677.3L727.9 693.7L728.4 736.6L728.9 789.5L729.5 832.3L730.0 848.7L730.6 826.1L731.2 766.8L731.8 693.6L732.4 634.4L733.0 611.8L733.7 644.3L734.3 729.3L734.9 834.5L735.6 919.6L736.2 952.1L736.7 908.4L737.2 794.0L737.8 652.5L738.3 538.1L738.8 494.4L739.3 538.1L739.8 652.5L740.3 794.0L740.8 908.4L741.3 952.1L742.0 919.6L742.6 834.5L743.2 729.3L743.8 644.3L744.5 611.8L744.9 633.2L745.3 689.2L745.7 758.4L746.1 814.4L746.5 835.8L747.1 821.6L747.8 784.4L748.4 738.4L749.1 701.2L749.7 687.0L750.3 706.5L750.8 757.5L751.3 820.5L751.9 871.5L752.4 891.0L753.0 861.2L753.6 783.2L754.2 686.9L754.8 608.9L755.4 579.2L756.0 616.7L756.6 715.2L757.2 836.8L757.7 935.2L758.3 972.8L758.8 922.8L759.4 791.8L759.9 630.0L760.4 499.1L760.9 449.0L761.6 515.6L762.2 690.0L762.8 905.5L763.5 1079.8L764.1 1146.4L764.6 1083.7L765.1 919.5L765.5 716.6L766.0 552.5L766.5 489.8L767.0 515.2L767.6 581.7L768.2 664.0L768.7 730.5L769.3 756.0L769.9 750.8L770.4 737.1L771.0 720.3L771.6 706.7L772.1 701.5L772.4 715.1L772.7 750.6L772.9 794.5L773.2 830.0L773.5 843.5L774.5 819.5L775.6 756.5L776.6 678.6L777.7 615.6L778.7 591.6L779.3 646.2L779.9 789.3L780.5 966.2L781.0 1109.3L781.6 1164.0L782.4 1068.2L783.1 817.3L783.8 507.2L784.6 256.3L785.3 160.5L785.8 261.6L786.3 526.2L786.8 853.2L787.3 1117.8L787.8 1218.8L788.5 1137.5L789.1 924.6L789.8 661.5L790.4 448.6L791.1 367.3L791.5 423.2L791.8 569.7L792.2 750.7L792.6 897.2L792.9 953.1L793.5 917.9L794.1 825.9L794.7 712.1L795.3 620.0L795.8 584.9L796.5 630.9L797.2 751.3L797.8 900.2L798.5 1020.6L799.1 1066.6L799.6 1000.1L800.1 826.0L800.6 610.8L801.0 436.7L801.5 370.2L802.1 433.8L802.6 600.5L803.2 806.5L803.7 973.1L804.3 1036.8L804.9 973.1L805.6 806.5L806.3 600.5L806.9 433.8L807.6 370.2L807.9 447.7L808.3 650.5L808.7 901.2L809.0 1104.1L809.4 1181.6L810.1 1099.0L810.7 882.8L811.4 615.5L812.0 399.3L812.7 316.7L813.2 393.4L813.7 594.3L814.1 842.6L814.6 1043.4L815.1 1120.1L815.8 1047.7L816.5 858.1L817.2 623.6L817.9 434.0L818.6 361.6L819.1 420.8L819.5 576.1L820.0 767.9L820.4 923.2L820.9 982.4L821.5 938.6L822.2 823.9L822.8 682.0L823.5 567.3L824.2 523.4L824.7 570.3L825.2 692.9L825.7 844.5L826.2 967.2L826.7 1014.0L827.2 968.0L827.8 847.6L828.4 698.8L829.0 578.4L829.6 532.4L830.1 565.2L830.6 650.9L831.1 756.9L831.7 842.7L832.2 875.5L832.8 854.2L833.5 798.7L834.1 730.0L834.7 674.4L835.4 653.2L835.8 665.5L836.3 697.8L836.7 737.7L837.1 769.9L837.6 782.3L838.2 771.1L838.8 741.8L839.4 705.7L840.0 676.4L840.6 665.3L841.2 679.1L841.7 715.2L842.2 759.9L842.7 796.1L843.3 809.9L843.9 797.2L844.6 763.9L845.3 722.7L846.0 689.4L846.7 676.7L847.3 690.4L847.9 726.5L848.6 771.1L849.2 807.1L849.8 820.9L850.4 804.4L850.9 761.2L851.4 707.8L852.0 664.5L852.5 648.0L853.1 665.2L853.7 710.3L854.4 765.9L855.0 811.0L855.6 828.2L856.1 812.4L856.5 771.3L856.9 720.4L857.3 679.3L857.7 663.5L858.5 687.9L859.3 751.8L860.1 830.7L860.9 894.5L861.7 918.9L862.2 884.2L862.8 793.1L863.3 680.6L863.8 589.6L864.3 554.8L864.9 589.1L865.5 678.7L866.2 789.5L866.8 879.2L867.4 913.4L868.1 877.2L868.8 782.6L869.5 665.5L870.2 570.8L870.9 534.6L871.4 566.5L872.0 650.0L872.5 753.2L873.0 836.7L873.6 868.5L874.1 852.3L874.6 809.6L875.1 757.0L875.7 714.3L876.2 698.1L876.7 703.7L877.2 718.5L877.8 736.7L878.3 751.5L878.8 757.2L879.3 751.3L879.9 735.8L880.4 716.7L880.9 701.2L881.5 695.3L881.7 704.3L882.0 727.7L882.2 756.7L882.5 780.2L882.8 789.2L883.7 775.9L884.7 741.2L885.6 698.4L886.6 663.7L887.5 650.4L888.1 671.6L888.7 727.0L889.3 795.4L889.9 850.8L890.5 872.0L891.4 841.4L892.2 761.3L893.0 662.4L893.8 582.3L894.6 551.7L895.1 584.9L895.5 671.9L896.0 779.3L896.4 866.2L896.9 899.4L897.7 859.1L898.4 753.6L899.2 623.2L900.0 517.7L900.8 477.3L901.3 531.8L901.9 674.5L902.4 850.9L902.9 993.5L903.5 1048.0L904.1 995.0L904.7 856.2L905.3 684.7L905.9 545.9L906.5 492.9L906.9 537.0L907.4 652.5L907.8 795.2L908.3 910.7L908.7 954.8L909.3 912.6L909.9 802.0L910.5 665.4L911.1 554.8L911.7 512.6L912.4 555.8L913.0 668.9L913.6 808.8L914.2 922.0L914.8 965.2L915.3 925.0L915.9 819.8L916.4 689.8L917.0 584.6L917.5 544.5L918.1 579.3L918.8 670.6L919.4 783.5L920.0 874.7L920.6 909.6L921.2 876.6L921.7 790.3L922.3 683.5L922.9 597.1L923.5 564.1L924.0 601.0L924.6 697.5L925.1 816.7L925.7 913.2L926.2 950.0L926.8 912.4L927.3 813.8L927.8 692.0L928.3 593.5L928.9 555.9L929.5 590.6L930.1 681.4L930.7 793.6L931.3 884.4L931.9 919.1L932.5 887.5L933.0 804.8L933.6 702.6L934.1 619.9L934.7 588.3L935.3 617.5L936.0 694.0L936.6 788.6L937.3 865.0L938.0 894.3L938.5 863.9L939.0 784.5L939.5 686.3L940.1 606.9L940.6 576.6L941.3 607.3L942.0 687.8L942.7 787.2L943.4 867.7L944.1 898.4L945.0 875.0L945.9 813.8L946.8 738.1L947.7 676.9L948.6 653.5L948.9 665.3L949.2 696.2L949.4 734.4L949.7 765.3L949.9 777.1L951.0 771.3L952.1 756.0L953.1 737.1L954.2 721.8L955.2 716.0L955.7 725.7L956.3 751.2L956.8 782.6L957.3 808.1L957.8 817.8L958.6 802.8L959.3 763.3L960.0 714.6L960.7 675.2L961.4 660.1L961.9 679.1L962.5 728.8L963.0 790.3L963.5 840.1L964.0 859.1L964.6 836.0L965.2 775.7L965.9 701.2L966.5 640.9L967.1 617.8L967.6 638.6L968.1 693.0L968.6 760.2L969.1 814.6L969.6 835.4L970.3 823.3L971.0 791.7L971.8 752.5L972.5 720.9L973.3 708.8L973.6 714.0L974.0 727.9L974.4 745.0L974.7 758.9L975.1 764.1L975.6 759.2L976.1 746.1L976.6 729.9L977.1 716.9L977.6 711.9L978.2 721.4L978.8 746.3L979.3 777.1L979.9 802.1L980.5 811.6L981.0 792.6L981.4 742.9L981.9 681.4L982.4 631.6L982.9 612.6L983.5 637.9L984.2 704.2L984.8 786.1L985.5 852.4L986.2 877.7L986.5 846.8L986.8 766.0L987.1 666.2L987.4 585.3L987.7 554.5L988.5 594.0L989.3 697.6L990.1 825.5L990.9 929.1L991.7 968.6L992.2 919.6L992.7 791.4L993.3 632.9L993.8 504.6L994.3 455.6L994.9 500.9L995.5 619.6L996.1 766.3L996.8 885.0L997.4 930.3L998.0 898.0L998.6 813.3L999.3 708.6L999.9 623.9L1000.5 591.6L1001.1 619.3L1001.6 691.9L1002.2 781.6L1002.7 854.1L1003.3 881.8L1003.9 856.7L1004.5 791.0L1005.1 709.7L1005.7 644.0L1006.3 618.9L1006.9 645.6L1007.5 715.8L1008.1 802.5L1008.6 872.6L1009.2 899.4L1009.7 868.0L1010.3 785.7L1010.8 684.1L1011.3 601.8L1011.8 570.4L1012.5 599.2L1013.1 674.6L1013.7 767.8L1014.4 843.2L1015.0 872.0L1015.5 850.7L1016.1 795.1L1016.6 726.3L1017.1 670.7L1017.6 649.4L1018.3 666.9L1018.9 712.6L1019.5 769.1L1020.2 814.8L1020.8 832.3L1021.4 817.8L1022.0 780.0L1022.5 733.1L1023.1 695.3L1023.7 680.8L1024.2 689.5L1024.8 712.3L1025.3 740.4L1025.8 763.2L1026.3 771.9L1027.0 764.5L1027.6 745.1L1028.2 721.1L1028.9 701.7L1029.5 694.3L1030.0 704.1L1030.5 729.8L1031.1 761.6L1031.6 787.3L1032.1 797.1L1032.4 790.9L1032.7 774.8L1033.0 754.9L1033.3 738.7L1033.6 732.6L1034.2 736.2L1034.8 745.6L1035.5 757.2L1036.1 766.6L1036.7 770.2L1037.3 757.1L1037.8 722.9L1038.3 680.6L1038.8 646.4L1039.4 633.3L1040.0 662.3L1040.6 738.1L1041.3 831.8L1041.9 907.6L1042.5 936.5L1043.1 901.7L1043.7 810.6L1044.3 698.0L1044.9 606.9L1045.4 572.1L1046.0 602.0L1046.6 680.2L1047.2 776.9L1047.9 855.1L1048.5 884.9L1049.0 862.9L1049.6 805.2L1050.2 733.8L1050.8 676.1L1051.4 654.1L1051.9 676.3L1052.4 734.5L1052.9 806.5L1053.4 864.8L1053.9 887.0L1054.4 853.3L1055.0 765.1L1055.5 656.0L1056.1 567.8L1056.6 534.1L1057.2 571.5L1057.7 669.2L1058.3 790.1L1058.8 887.8L1059.4 925.1L1060.0 896.5L1060.7 821.4L1061.3 728.5L1061.9 653.4L1062.6 624.7L1063.1 648.6L1063.6 711.0L1064.1 788.3L1064.7 850.7L1065.2 874.6L1065.8 846.7L1066.5 773.7L1067.1 683.4L1067.7 610.3L1068.3 582.4L1068.8 606.0L1069.3 667.7L1069.8 743.9L1070.3 805.6L1070.9 829.2L1071.4 816.4L1071.9 782.9L1072.4 741.6L1073.0 708.1L1073.5 695.3L1074.0 711.5L1074.5 754.0L1075.0 806.5L1075.5 849.0L1076.0 865.3L1076.6 844.3L1077.2 789.4L1077.8 721.6L1078.4 666.7L1079.0 645.8L1079.7 670.8L1080.4 736.2L1081.1 817.1L1081.9 882.5L1082.6 907.5L1083.1 879.8L1083.6 807.1L1084.2 717.2L1084.7 644.5L1085.2 616.8L1085.7 629.7L1086.2 663.6L1086.7 705.5L1087.3 739.4L1087.8 752.3L1088.3 748.5L1088.8 738.3L1089.3 725.8L1089.8 715.7L1090.3 711.9L1090.4 724.6L1090.4 758.1L1090.4 799.4L1090.4 832.8L1090.5 845.6L1091.4 827.7L1092.4 780.7L1093.3 722.7L1094.3 675.8L1095.2 657.8L1096.0 678.0L1096.8 730.6L1097.7 795.8L1098.5 848.4L1099.3 868.5L1100.0 840.3L1100.6 766.4L1101.3 675.0L1101.9 601.0L1102.6 572.8L1103.1 600.2L1103.6 672.2L1104.1 761.1L1104.6 833.0L1105.1 860.4L1105.8 837.1L1106.4 775.9L1107.1 700.3L1107.7 639.1L1108.4 615.7L1108.9 636.0L1109.5 689.1L1110.0 754.8L1110.6 807.9L1111.2 828.2L1111.8 808.1L1112.4 755.4L1113.0 690.4L1113.6 637.7L1114.2 617.6L1114.7 641.7L1115.1 704.6L1115.6 782.4L1116.1 845.4L1116.6 869.4L1117.2 844.5L1117.9 779.2L1118.5 698.5L1119.2 633.3L1119.8 608.3L1120.4 632.2L1121.0 694.8L1121.6 772.2L1122.2 834.8L1122.7 858.7L1123.2 837.7L1123.7 782.8L1124.2 714.8L1124.6 659.9L1125.1 638.9L1125.8 659.2L1126.5 712.6L1127.2 778.5L1127.9 831.8L1128.5 852.2L1129.0 832.6L1129.5 781.3L1130.0 718.0L1130.5 666.7L1131.0 647.2L1131.6 665.6L1132.3 714.0L1132.9 773.8L1133.5 822.1L1134.1 840.6L1134.6 820.8L1135.2 768.9L1135.7 704.7L1136.3 652.8L1136.8 633.0L1137.4 657.7L1137.9 722.4L1138.5 802.4L1139.0 867.1L1139.6 891.8L1140.2 862.0L1140.8 783.9L1141.4 687.3L1142.0 609.2L1142.6 579.3L1143.3 599.1L1144.1 651.0L1144.8 715.1L1145.5 766.9L1146.2 786.8L1146.7 780.7L1147.2 764.8L1147.8 745.1L1148.3 729.2L1148.8 723.1L1149.5 730.0L1150.1 748.3L1150.7 770.9L1151.3 789.1L1152.0 796.1L1152.7 782.5L1153.4 746.9L1154.0 702.9L1154.7 667.3L1155.4 653.7L1155.9 672.6L1156.4 722.0L1156.8 783.0L1157.3 832.4L1157.8 851.3L1158.4 830.3L1158.9 775.3L1159.5 707.4L1160.1 652.4L1160.7 631.4L1161.4 652.0L1162.0 706.0L1162.7 772.6L1163.4 826.6L1164.1 847.2L1164.7 826.6L1165.3 772.9L1165.8 706.5L1166.4 652.8L1167.0 632.3L1167.6 653.6L1168.2 709.4L1168.7 778.3L1169.3 834.1L1169.9 855.4L1170.4 835.9L1171.0 784.6L1171.6 721.3L1172.1 670.0L1172.7 650.4L1173.1 662.3L1173.5 693.3L1173.9 731.6L1174.3 762.7L1174.8 774.5L1175.4 767.3L1176.1 748.5L1176.7 725.3L1177.4 706.4L1178.1 699.3L1178.6 709.8L1179.2 737.5L1179.7 771.7L1180.3 799.3L1180.8 809.9L1181.3 795.4L1181.8 757.5L1182.3 710.7L1182.8 672.8L1183.3 658.4L1184.0 675.6L1184.7 720.7L1185.4 776.5L1186.1 821.6L1186.8 838.9L1187.3 820.2L1187.8 771.3L1188.3 710.9L1188.9 662.0L1189.4 643.4L1190.0 660.5L1190.7 705.5L1191.3 761.0L1191.9 806.0L1192.5 823.2L1193.1 810.0L1193.6 775.6L1194.1 733.1L1194.7 698.8L1195.2 685.6L1195.7 694.6L1196.3 718.0L1196.8 747.0L1197.4 770.4L1197.9 779.3L1198.5 771.0L1199.1 749.1L1199.6 722.1L1200.2 700.2L1200.7 691.8L1201.3 703.0L1201.9 732.3L1202.5 768.4L1203.1 797.7L1203.7 808.8L1204.4 791.4L1205.1 745.8L1205.8 689.5L1206.5 643.9L1207.2 626.4L1207.7 647.0L1208.3 700.7L1208.9 767.1L1209.5 820.8L1210.1 841.3L1210.6 824.9L1211.2 781.9L1211.7 728.8L1212.3 685.8L1212.8 669.4L1213.4 683.0L1213.9 718.7L1214.5 762.8L1215.0 798.5L1215.6 812.1L1216.2 798.4L1216.8 762.6L1217.4 718.3L1218.0 682.4L1218.6 668.7L1219.2 682.7L1219.7 719.3L1220.3 764.5L1220.8 801.1L1221.4 815.1L1222.0 798.4L1222.6 755.0L1223.2 701.2L1223.8 657.7L1224.4 641.1L1225.0 659.1L1225.5 706.2L1226.1 764.3L1226.6 811.4L1227.2 829.4L1227.8 815.2L1228.3 777.9L1228.9 731.9L1229.5 694.7L1230.1 680.5L1230.7 693.1L1231.3 726.4L1231.9 767.4L1232.5 800.6L1233.1 813.3L1233.6 799.5L1234.2 763.4L1234.7 718.7L1235.2 682.5L1235.7 668.7L1236.3 679.4L1236.8 707.2L1237.3 741.7L1237.9 769.6L1238.4 780.2L1238.9 772.1L1239.4 751.0L1240.0 725.0L1240.5 703.9L1241.0 695.8L1241.7 708.2L1242.3 740.6L1243.0 780.6L1243.6 813.0L1244.3 825.4L1244.7 809.7L1245.1 768.5L1245.5 717.5L1245.9 676.3L1246.3 660.6L1246.9 672.9L1247.4 705.0L1248.0 744.6L1248.6 776.7L1249.2 789.0L1249.7 781.4L1250.3 761.4L1250.8 736.7L1251.4 716.7L1251.9 709.1L1252.6 716.6L1253.2 736.2L1253.8 760.5L1254.4 780.1L1255.0 787.6L1255.5 777.7L1256.0 751.9L1256.5 720.0L1257.0 694.1L1257.5 684.3L1258.1 695.3L1258.6 724.3L1259.2 760.0L1259.8 789.0L1260.4 800.0L1260.9 791.4L1261.3 768.6L1261.8 740.5L1262.3 717.8L1262.7 709.1L1263.2 713.4L1263.7 724.5L1264.2 738.4L1264.7 749.5L1265.2 753.8L1265.8 750.4L1266.4 741.5L1267.0 730.5L1267.6 721.6L1268.1 718.2L1268.7 725.8L1269.3 745.7L1269.9 770.2L1270.5 790.0L1271.0 797.6L1271.5 787.9L1272.0 762.3L1272.5 730.8L1272.9 705.2L1273.4 695.5L1274.0 704.1L1274.6 726.8L1275.2 754.8L1275.8 777.4L1276.4 786.1L1277.0 778.7L1277.6 759.5L1278.1 735.7L1278.7 716.4L1279.2 709.1L1279.8 716.0L1280.4 734.0L1281.0 756.2L1281.6 774.2L1282.2 781.1L1282.8 774.3L1283.4 756.6L1284.0 734.6L1284.6 716.9L1285.1 710.1L1285.6 717.0L1286.1 734.9L1286.6 757.1L1287.0 775.1L1287.5 781.9L1288.2 774.1L1288.8 753.6L1289.5 728.3L1290.1 707.8L1290.8 700.0L1291.3 708.8L1291.9 732.0L1292.4 760.6L1292.9 783.8L1293.4 792.6L1294.0 782.2L1294.6 754.9L1295.2 721.2L1295.8 694.0L1296.3 683.6L1296.9 694.7L1297.5 724.0L1298.2 760.1L1298.8 789.4L1299.4 800.6L1299.8 792.0L1300.3 769.6L1300.7 741.8L1301.2 719.4L1301.6 710.8L1302.2 717.1L1302.8 733.7L1303.4 754.1L1304.0 770.6L1304.6 776.9L1305.1 771.5L1305.5 757.2L1305.9 739.5L1306.3 725.3L1306.7 719.8L1307.5 726.5L1308.2 744.1L1309.0 765.9L1309.7 783.5L1310.4 790.2L1310.8 779.0L1311.3 749.6L1311.7 713.3L1312.1 683.9L1312.5 672.7L1313.4 685.3L1314.3 718.4L1315.2 759.3L1316.1 792.4L1317.0 805.0L1317.3 796.0L1317.6 772.3L1318.0 742.9L1318.3 719.2L1318.6 710.1L1319.3 715.9L1320.0 730.9L1320.6 749.4L1321.3 764.5L1322.0 770.2L1322.6 761.8L1323.1 739.8L1323.6 712.7L1324.2 690.7L1324.7 682.3L1325.4 696.4L1326.1 733.4L1326.8 779.0L1327.5 815.9L1328.2 830.0L1328.7 811.9L1329.2 764.5L1329.7 705.9L1330.2 658.5L1330.7 640.4L1331.4 657.1L1332.1 700.9L1332.8 755.0L1333.5 798.7L1334.1 815.5L1334.7 803.7L1335.2 773.0L1335.7 735.0L1336.2 704.3L1336.7 692.6L1337.1 700.3L1337.5 720.3L1337.9 745.0L1338.4 765.0L1338.8 772.7L1339.3 764.6L1339.9 743.5L1340.4 717.5L1341.0 696.4L1341.5 688.3L1342.1 699.2L1342.7 727.8L1343.3 763.1L1343.8 791.7L1344.4 802.6L1345.0 790.2L1345.6 757.5L1346.2 717.2L1346.7 684.5L1347.3 672.1L1347.9 686.9L1348.6 725.7L1349.2 773.8L1349.8 812.6L1350.4 827.4L1351.0 811.2L1351.6 768.7L1352.2 716.2L1352.7 673.7L1353.3 657.5L1353.9 673.6L1354.4 715.6L1355.0 767.6L1355.5 809.7L1356.1 825.7L1356.6 809.3L1357.2 766.1L1357.8 712.8L1358.4 669.7L1359.0 653.2L1359.5 670.8L1360.0 716.7L1360.5 773.4L1361.0 819.3L1361.5 836.8L1362.1 822.0L1362.7 783.2L1363.3 735.2L1363.9 696.3L1364.4 681.5L1365.1 691.9L1365.7 719.2L1366.3 752.9L1366.9 780.2L1367.5 790.6L1368.1 781.3L1368.7 756.8L1369.3 726.5L1369.8 702.0L1370.4 692.6L1370.9 703.5L1371.3 732.1L1371.8 767.4L1372.2 796.0L1372.7 806.9L1373.3 795.0L1373.9 763.9L1374.5 725.4L1375.1 694.2L1375.7 682.3L1376.3 691.2L1376.9 714.4L1377.5 743.1L1378.1 766.4L1378.6 775.2L1379.2 770.1L1379.8 756.7L1380.4 740.2L1381.0 726.8L1381.6 721.7L1382.1 725.9L1382.6 736.9L1383.2 750.6L1383.7 761.6L1384.3 765.8L1384.9 761.0L1385.5 748.5L1386.1 733.0L1386.8 720.5L1387.4 715.7L1387.9 720.7L1388.3 733.6L1388.8 749.6L1389.3 762.6L1389.8 767.5L1390.4 761.1L1390.9 744.3L1391.5 723.5L1392.1 706.7L1392.7 700.3L1393.2 708.4L1393.8 729.7L1394.3 756.1L1394.9 777.4L1395.4 785.5L1396.0 779.4L1396.6 763.5L1397.2 743.7L1397.7 727.8L1398.3 721.7L1398.9 725.3L1399.6 734.6L1400.2 746.1L1400.8 755.4L1401.4 759.0L1401.8 756.4L1402.2 749.6L1402.6 741.3L1403.1 734.5L1403.5 732.0L1404.1 733.6L1404.7 737.8L1405.3 742.9L1405.9 747.1L1406.5 748.7L1407.0 747.3L1407.4 743.5L1407.8 738.9L1408.2 735.1L1408.6 733.7L1409.3 737.4L1410.0 747.2L1410.6 759.2L1411.3 768.9L1412.0 772.7L1412.5 766.0L1413.0 748.6L1413.6 727.0L1414.1 709.5L1414.6 702.9L1415.3 710.8L1416.0 731.7L1416.6 757.5L1417.3 778.4L1418.0 786.4L1418.5 777.0L1419.0 752.5L1419.5 722.2L1420.1 697.7L1420.6 688.3L1421.3 699.7L1421.9 729.4L1422.6 766.2L1423.3 795.9L1424.0 807.2L1424.6 794.7L1425.2 761.8L1425.7 721.2L1426.3 688.4L1426.9 675.8L1427.7 688.3L1428.5 721.1L1429.3 761.6L1430.1 794.4L1430.8 806.9L1431.3 795.2L1431.7 764.5L1432.2 726.5L1432.6 695.8L1433.1 684.0L1433.8 694.6L1434.4 722.4L1435.1 756.6L1435.8 784.3L1436.5 794.9L1436.9 785.6L1437.3 761.3L1437.7 731.3L1438.1 707.0L1438.5 697.7L1439.2 707.3L1439.8 732.5L1440.4 763.6L1441.0 788.7L1441.6 798.3L1442.1 786.2L1442.7 754.4L1443.2 715.1L1443.7 683.4L1444.2 671.2L1444.9 683.7L1445.6 716.3L1446.2 756.7L1446.9 789.3L1447.6 801.8L1448.2 792.2L1448.8 767.3L1449.4 736.5L1449.9 711.5L1450.5 702.0L1451.0 708.6L1451.6 725.8L1452.1 747.1L1452.6 764.4L1453.1 771.0L1453.6 766.1L1454.1 753.3L1454.6 737.6L1455.1 724.9L1455.7 720.0L1456.2 725.3L1456.8 739.1L1457.4 756.1L1458.0 770.0L1458.6 775.2L1459.1 768.1L1459.7 749.3L1460.2 726.2L1460.8 707.5L1461.3 700.3L1462.0 707.6L1462.6 726.8L1463.3 750.5L1463.9 769.6L1464.6 776.9L1465.0 772.8L1465.4 762.0L1465.9 748.6L1466.3 737.8L1466.8 733.7L1467.4 735.5L1467.9 740.4L1468.5 746.3L1469.1 751.1L1469.7 753.0L1470.1 749.0L1470.6 738.6L1471.0 725.8L1471.5 715.4L1471.9 711.4L1472.6 716.5L1473.3 729.9L1474.0 746.5L1474.7 759.9L1475.3 765.0L1475.9 759.9L1476.4 746.8L1476.9 730.5L1477.4 717.3L1477.9 712.3L1478.5 717.3L1479.1 730.5L1479.7 746.8L1480.2 759.9L1480.8 765.0L1481.3 761.4L1481.8 752.1L1482.4 740.6L1482.9 731.2L1483.4 727.7L1484.0 730.7L1484.6 738.5L1485.2 748.2L1485.9 756.0L1486.5 759.0L1487.0 754.7L1487.5 743.4L1488.0 729.5L1488.5 718.3L1489.0 714.0L1489.6 721.9L1490.3 742.5L1490.9 768.1L1491.5 788.7L1492.1 796.6L1492.7 784.7L1493.3 753.6L1493.9 715.1L1494.4 684.0L1495.0 672.1L1495.6 686.5L1496.3 724.3L1496.9 771.0L1497.5 808.7L1498.1 823.2L1498.7 806.7L1499.3 763.6L1499.8 710.3L1500.4 667.1L1501.0 650.7L1501.6 669.6L1502.2 719.1L1502.9 780.4L1503.5 829.9L1504.1 848.8L1504.7 829.7L1505.3 779.8L1505.8 718.0L1506.4 668.0L1507.0 649.0L1507.5 665.1L1508.0 707.4L1508.5 759.6L1509.1 801.9L1509.6 818.0L1510.2 805.2L1510.7 771.7L1511.3 730.3L1511.9 696.8L1512.5 684.0L1513.0 692.9L1513.6 716.1L1514.1 744.9L1514.7 768.1L1515.2 776.9L1515.8 770.4L1516.4 753.4L1517.0 732.4L1517.5 715.4L1518.1 708.9L1518.6 714.5L1519.2 729.1L1519.7 747.3L1520.2 761.9L1520.7 767.5L1521.3 763.1L1521.9 751.4L1522.4 737.0L1523.0 725.3L1523.6 720.8L1524.2 723.5L1524.8 730.5L1525.5 739.1L1526.1 746.0L1526.7 748.7L1527.2 746.9L1527.7 742.0L1528.2 736.1L1528.7 731.2L1529.3 729.4L1529.8 732.8L1530.4 741.7L1531.0 752.7L1531.6 761.6L1532.2 765.0L1532.8 759.7L1533.4 745.9L1534.0 728.8L1534.6 715.0L1535.2 709.7L1535.9 715.2L1536.5 729.7L1537.1 747.6L1537.7 762.0L1538.3 767.5L1538.9 764.1L1539.5 755.0L1540.1 743.7L1540.7 734.6L1541.2 731.1L1541.7 733.1L1542.1 738.4L1542.6 744.9L1543.0 750.1L1543.5 752.1L1544.0 750.5L1544.6 746.3L1545.2 741.2L1545.8 737.0L1546.4 735.4L1547.3 737.6L1548.2 743.2L1549.1 750.3L1550.1 756.0L1551.0 758.1L1551.5 753.9L1552.0 742.7L1552.5 728.9L1553.0 717.7L1553.6 713.5L1554.3 720.4L1555.1 738.7L1555.9 761.2L1556.7 779.4L1557.5 786.4L1558.2 778.7L1558.9 758.7L1559.5 734.0L1560.2 713.9L1560.9 706.3L1561.4 712.8L1561.9 729.8L1562.5 750.9L1563.0 767.9L1563.5 774.4L1564.0 766.8L1564.5 747.0L1565.0 722.5L1565.5 702.7L1566.0 695.2L1566.8 704.7L1567.6 729.6L1568.4 760.5L1569.2 785.4L1570.0 794.9L1570.4 784.5L1570.8 757.3L1571.2 723.7L1571.6 696.5L1572.0 686.1L1572.7 696.1L1573.4 722.2L1574.1 754.5L1574.8 780.7L1575.5 790.6L1576.1 782.6L1576.8 761.5L1577.5 735.4L1578.2 714.4L1578.9 706.3L1579.6 713.0L1580.3 730.5L1581.0 752.1L1581.7 769.6L1582.4 776.3L1583.0 771.0L1583.6 757.2L1584.2 740.2L1584.8 726.4L1585.4 721.1L1586.0 724.6L1586.7 733.5L1587.3 744.7L1587.9 753.6L1588.6 757.1L1589.3 753.3L1590.1 743.3L1590.9 731.0L1591.7 721.1L1592.4 717.3L1592.8 722.7L1593.2 737.0L1593.6 754.7L1594.0 768.9L1594.3 774.4L1595.1 769.5L1595.9 756.9L1596.7 741.2L1597.4 728.5L1598.2 723.7L1598.7 727.0L1599.2 735.7L1599.7 746.4L1600.2 755.0L1600.8 758.4L1601.4 755.7L1602.0 748.6L1602.7 739.9L1603.3 732.8L1604.0 730.1L1604.5 732.3L1605.0 738.2L1605.5 745.4L1606.0 751.3L1606.5 753.5L1607.2 751.1L1607.8 744.9L1608.4 737.2L1609.1 730.9L1609.7 728.6L1610.3 731.5L1610.9 739.2L1611.5 748.7L1612.1 756.4L1612.7 759.4L1613.2 756.8L1613.8 750.1L1614.4 741.7L1614.9 735.0L1615.5 732.4L1616.3 734.5L1617.0 740.0L1617.8 746.9L1618.6 752.4L1619.3 754.5L1619.6 752.8L1619.9 748.3L1620.1 742.7L1620.4 738.2L1620.6 736.5L1621.0 737.2L1621.4 739.2L1621.8 741.5L1622.2 743.4L1622.5 744.2L1622.9 743.1L1623.3 740.4L1623.7 737.1L1624.1 734.3L1624.5 733.3L1624.9 735.1L1625.2 740.0L1625.6 745.9L1626.0 750.7L1626.4 752.6L1627.2 750.1L1627.9 743.5L1628.7 735.4L1629.5 728.8L1630.2 726.3L1630.9 730.7L1631.5 742.2L1632.2 756.5L1632.8 768.0L1633.4 772.5L1634.0 766.5L1634.6 750.7L1635.2 731.3L1635.8 715.6L1636.4 709.6L1637.0 715.3L1637.5 730.2L1638.1 748.6L1638.7 763.6L1639.2 769.3L1639.9 764.4L1640.5 751.7L1641.1 736.1L1641.8 723.4L1642.4 718.6L1642.9 722.6L1643.4 733.2L1644.0 746.3L1644.5 756.9L1645.0 760.9L1645.4 757.4L1645.9 748.3L1646.3 737.0L1646.7 727.8L1647.2 724.3L1647.8 728.2L1648.3 738.3L1648.9 750.8L1649.5 760.9L1650.1 764.8L1650.7 760.5L1651.3 749.5L1651.9 735.8L1652.5 724.7L1653.1 720.5L1653.5 724.8L1654.0 736.2L1654.5 750.3L1655.0 761.7L1655.5 766.1L1656.1 761.9L1656.7 751.0L1657.3 737.5L1657.9 726.6L1658.4 722.4L1659.0 726.6L1659.6 737.5L1660.1 751.0L1660.7 761.9L1661.3 766.1L1661.8 762.4L1662.3 753.0L1662.8 741.3L1663.3 731.8L1663.8 728.2L1664.8 731.3L1665.7 739.5L1666.6 749.6L1667.5 757.8L1668.4 760.9L1669.1 758.0L1669.8 750.5L1670.5 741.2L1671.2 733.6L1671.9 730.7L1672.7 733.0L1673.4 739.0L1674.2 746.3L1675.0 752.2L1675.8 754.5L1676.4 752.7L1677.0 747.9L1677.7 741.9L1678.3 737.1L1679.0 735.2L1679.2 736.2L1679.5 738.8L1679.7 742.0L1680.0 744.6L1680.2 745.5L1680.9 744.7L1681.6 742.4L1682.3 739.6L1683.0 737.4L1683.7 736.5L1684.0 739.3L1684.4 746.5L1684.7 755.4L1685.0 762.7L1685.4 765.4L1686.3 760.3L1687.2 746.9L1688.1 730.4L1689.0 717.0L1689.9 711.9L1690.4 717.5L1690.9 732.2L1691.4 750.3L1691.9 764.9L1692.4 770.5L1693.1 765.3L1693.7 751.5L1694.3 734.4L1695.0 720.6L1695.6 715.4L1696.1 721.7L1696.7 738.2L1697.2 758.6L1697.7 775.1L1698.2 781.4L1698.8 774.6L1699.5 756.5L1700.1 734.2L1700.8 716.2L1701.4 709.3L1701.9 715.0L1702.4 729.8L1702.9 748.1L1703.4 763.0L1704.0 768.6L1704.6 763.4L1705.2 749.8L1705.9 732.9L1706.5 719.3L1707.2 714.1L1707.6 719.7L1708.1 734.2L1708.5 752.3L1709.0 766.9L1709.5 772.5L1710.1 766.3L1710.7 750.1L1711.3 730.1L1711.9 713.9L1712.5 707.7L1713.1 713.9L1713.6 730.1L1714.2 750.1L1714.7 766.3L1715.2 772.5L1715.8 767.8L1716.3 755.6L1716.8 740.5L1717.3 728.3L1717.8 723.7L1718.4 727.7L1718.9 738.3L1719.5 751.4L1720.1 762.0L1720.6 766.1L1721.2 761.3L1721.8 748.8L1722.3 733.3L1722.9 720.8L1723.4 716.0L1724.1 720.5L1724.7 732.4L1725.4 747.1L1726.0 759.0L1726.7 763.5L1727.2 759.8L1727.7 750.3L1728.2 738.4L1728.7 728.9L1729.2 725.2L1729.8 728.8L1730.4 738.0L1731.0 749.4L1731.6 758.7L1732.2 762.2L1732.7 758.6L1733.2 749.3L1733.7 737.8L1734.2 728.5L1734.7 725.0L1735.3 727.6L1735.9 734.3L1736.4 742.6L1737.0 749.4L1737.5 751.9L1738.1 750.3L1738.7 746.0L1739.3 740.6L1739.9 736.2L1740.5 734.6L1741.0 736.1L1741.5 739.9L1742.0 744.7L1742.5 748.6L1743.1 750.0L1743.6 748.7L1744.2 745.4L1744.8 741.2L1745.3 737.8L1745.9 736.5L1746.5 737.6L1747.1 740.5L1747.7 744.1L1748.2 747.0L1748.8 748.1L1749.3 747.1L1749.9 744.3L1750.4 740.9L1750.9 738.2L1751.4 737.2L1752.0 738.1L1752.5 740.7L1753.1 743.9L1753.7 746.5L1754.2 747.5L1754.7 746.4L1755.1 743.7L1755.6 740.3L1756.1 737.6L1756.5 736.5L1757.1 737.7L1757.7 741.0L1758.3 744.9L1758.9 748.2L1759.5 749.4L1760.0 747.8L1760.6 743.8L1761.2 738.9L1761.7 734.8L1762.3 733.3L1762.8 734.8L1763.3 738.9L1763.8 743.8L1764.3 747.8L1764.9 749.4L1765.1 748.5L1765.4 746.3L1765.6 743.5L1765.9 741.2L1766.1 740.4L1766.9 741.0L1767.7 742.6L1768.4 744.6L1769.2 746.2L1770.0 746.8L1770.2 745.1L1770.3 740.7L1770.5 735.3L1770.7 730.9L1770.9 729.2L1771.8 731.4L1772.7 737.0L1773.6 743.9L1774.5 749.5L1775.4 751.7L1775.7 750.1L1776.0 746.0L1776.4 740.9L1776.7 736.8L1777.0 735.2L1777.7 736.4L1778.3 739.5L1779.0 743.2L1779.6 746.3L1780.2 747.5L1780.7 746.0L1781.2 742.3L1781.6 737.6L1782.1 733.8L1782.5 732.4L1783.1 735.0L1783.7 741.8L1784.2 750.2L1784.8 757.0L1785.4 759.6L1786.1 756.7L1786.9 749.1L1787.7 739.7L1788.4 732.1L1789.2 729.2L1789.7 731.7L1790.2 738.3L1790.8 746.4L1791.3 753.0L1791.8 755.5L1792.4 753.1L1793.1 746.8L1793.7 738.9L1794.3 732.5L1795.0 730.1L1795.5 732.9L1796.0 740.2L1796.5 749.3L1797.0 756.6L1797.5 759.4L1798.2 755.7L1798.8 746.2L1799.5 734.3L1800.1 724.8L1800.8 721.1L1801.2 725.2L1801.7 735.8L1802.1 748.9L1802.6 759.4L1803.1 763.5L1803.7 759.5L1804.3 749.2L1805.0 736.4L1805.6 726.1L1806.3 722.2L1806.8 725.3L1807.4 733.6L1808.0 743.8L1808.5 752.0L1809.1 755.2L1809.7 753.3L1810.2 748.4L1810.8 742.3L1811.3 737.4L1811.9 735.5L1812.5 736.3L1813.1 738.5L1813.7 741.1L1814.3 743.3L1814.9 744.1L1815.2 743.3L1815.6 741.0L1816.0 738.1L1816.4 735.8L1816.8 735.0L1817.8 737.5L1818.7 744.2L1819.7 752.4L1820.7 759.0L1821.7 761.6L1822.3 758.1L1823.0 748.9L1823.7 737.6L1824.4 728.5L1825.1 725.0L1825.6 728.0L1826.1 736.1L1826.7 746.0L1827.2 754.0L1827.7 757.1L1828.2 753.8L1828.8 745.3L1829.4 734.8L1829.9 726.3L1830.5 723.1L1831.1 726.6L1831.7 736.0L1832.3 747.7L1832.9 757.1L1833.4 760.7L1834.1 757.6L1834.7 749.4L1835.4 739.4L1836.0 731.3L1836.7 728.2L1837.2 731.4L1837.8 739.7L1838.3 750.0L1838.9 758.4L1839.5 761.6L1840.1 757.5L1840.7 746.9L1841.2 733.8L1841.8 723.3L1842.4 719.2L1842.9 724.0L1843.4 736.6L1844.0 752.2L1844.5 764.8L1845.0 769.6L1845.6 764.4L1846.2 750.7L1846.8 733.7L1847.3 720.0L1847.9 714.7L1848.6 720.4L1849.2 735.1L1849.9 753.4L1850.5 768.1L1851.1 773.7L1851.7 767.9L1852.3 752.7L1852.9 733.9L1853.5 718.6L1854.1 712.8L1854.7 718.7L1855.4 734.3L1856.0 753.5L1856.7 769.1L1857.3 775.0L1857.9 769.1L1858.4 753.7L1859.0 734.7L1859.5 719.3L1860.1 713.4L1860.6 718.6L1861.0 732.1L1861.5 748.7L1862.0 762.2L1862.4 767.3L1863.2 762.2L1864.0 748.7L1864.7 732.1L1865.5 718.6L1866.3 713.4L1866.8 720.3L1867.3 738.3L1867.8 760.5L1868.3 778.4L1868.8 785.3L1869.5 776.9L1870.1 755.1L1870.8 728.0L1871.4 706.1L1872.0 697.8L1872.6 706.5L1873.2 729.3L1873.7 757.6L1874.3 780.4L1874.9 789.1L1875.4 780.5L1876.0 758.0L1876.6 730.2L1877.2 707.7L1877.8 699.1L1878.4 707.4L1879.0 729.2L1879.6 756.2L1880.2 778.0L1880.8 786.3L1881.3 777.8L1881.9 755.4L1882.4 727.7L1883.0 705.3L1883.6 696.8L1884.2 705.3L1884.8 727.7L1885.3 755.4L1885.9 777.8L1886.5 786.3L1887.1 777.9L1887.7 756.0L1888.2 729.0L1888.8 707.1L1889.3 698.7L1889.9 706.8L1890.4 727.9L1890.9 754.1L1891.4 775.3L1891.9 783.4L1892.5 776.0L1893.0 756.8L1893.6 733.0L1894.2 713.7L1894.7 706.4L1895.4 712.9L1896.0 730.1L1896.7 751.3L1897.3 768.5L1897.9 775.0L1898.5 769.6L1899.0 755.3L1899.5 737.7L1900.1 723.4L1900.6 717.9L1901.1 722.2L1901.5 733.4L1901.9 747.3L1902.4 758.6L1902.8 762.8L1903.4 759.2L1904.1 749.8L1904.7 738.1L1905.4 728.6L1906.0 725.0L1906.4 728.2L1906.8 736.7L1907.2 747.2L1907.5 755.8L1907.9 759.0L1908.6 755.8L1909.2 747.5L1909.9 737.1L1910.5 728.8L1911.1 725.6L1911.7 728.9L1912.2 737.6L1912.7 748.3L1913.2 757.0L1913.7 760.3L1914.3 757.3L1914.9 749.4L1915.5 739.7L1916.1 731.8L1916.7 728.8L1917.2 731.4L1917.8 738.1L1918.3 746.5L1918.9 753.2L1919.5 755.8L1920.0 753.5L1920.5 747.6L1921.0 740.2L1921.5 734.3L1922.0 732.0L1922.5 734.2L1923.1 739.8L1923.6 746.7L1924.1 752.4L1924.6 754.5L1925.0 752.2L1925.4 746.0L1925.8 738.4L1926.1 732.2L1926.5 729.8L1926.9 732.0L1927.3 737.7L1927.7 744.7L1928.1 750.4L1928.4 752.6L1929.0 750.9L1929.5 746.4L1930.0 740.8L1930.5 736.3L1931.0 734.6L1931.5 736.2L1932.0 740.4L1932.5 745.5L1933.1 749.7L1933.6 751.3L1934.2 749.3L1934.8 744.0L1935.3 737.4L1935.9 732.1L1936.5 730.1L1937.1 732.4L1937.7 738.5L1938.2 746.1L1938.8 752.2L1939.3 754.5L1939.9 752.5L1940.5 747.1L1941.0 740.4L1941.6 735.0L1942.2 732.9L1942.8 735.0L1943.3 740.4L1943.9 747.1L1944.5 752.5L1945.1 754.5L1945.7 752.3L1946.3 746.4L1946.9 739.2L1947.5 733.4L1948.1 731.1L1948.6 733.3L1949.2 738.9L1949.8 745.8L1950.3 751.4L1950.9 753.5L1951.4 751.2L1952.0 745.3L1952.6 738.0L1953.1 732.1L1953.7 729.8L1954.4 732.4L1955.0 739.0L1955.7 747.2L1956.4 753.9L1957.0 756.4L1957.7 753.7L1958.3 746.7L1958.9 737.9L1959.5 730.9L1960.1 728.2L1960.6 730.8L1961.1 737.5L1961.7 745.8L1962.2 752.6L1962.7 755.2L1963.3 752.9L1963.9 746.9L1964.4 739.4L1965.0 733.4L1965.6 731.1L1966.2 733.8L1966.8 740.9L1967.4 749.6L1968.0 756.7L1968.6 759.4L1969.1 755.9L1969.7 746.8L1970.3 735.6L1970.8 726.5L1971.4 723.1L1972.0 726.9L1972.5 737.0L1973.1 749.5L1973.7 759.6L1974.2 763.5L1974.9 759.7L1975.5 749.7L1976.2 737.4L1976.9 727.5L1977.5 723.7L1978.1 727.0L1978.7 735.6L1979.2 746.2L1979.8 754.8L1980.4 758.1L1980.9 755.4L1981.5 748.2L1982.1 739.4L1982.6 732.2L1983.2 729.5L1983.8 732.0L1984.4 738.5L1985.0 746.5L1985.5 753.0L1986.1 755.5L1986.9 753.1L1987.7 746.8L1988.4 738.9L1989.2 732.5L1990.0 730.1L1990.5 732.3L1991.0 738.2L1991.5 745.4L1992.0 751.3L1992.5 753.5L1993.1 751.2L1993.7 745.3L1994.3 738.0L1994.9 732.1L1995.5 729.8L1996.1 732.5L1996.8 739.5L1997.4 748.1L1998.1 755.1L1998.7 757.7L1999.4 754.7L2000.1 746.7L2000.8 736.9L2001.5 728.9L2002.2 725.9L2002.7 729.2L2003.2 737.9L2003.7 748.6L2004.2 757.3L2004.7 760.7L2005.3 757.3L2005.9 748.3L2006.5 737.3L2007.1 728.4L2007.7 725.0L2008.4 728.1L2009.1 736.2L2009.8 746.2L2010.4 754.2L2011.1 757.3L2011.8 754.3L2012.4 746.5L2013.1 736.8L2013.7 729.0L2014.3 726.0L2015.0 728.9L2015.6 736.5L2016.3 745.9L2016.9 753.5L2017.5 756.4L2018.2 754.4L2018.8 749.0L2019.5 742.4L2020.1 737.0L2020.8 735.0L2021.4 736.2L2022.0 739.3L2022.7 743.1L2023.3 746.3L2024.0 747.5L2024.6 746.6L2025.2 744.5L2025.9 741.8L2026.5 739.6L2027.2 738.8L2027.8 739.6L2028.4 741.8L2029.1 744.5L2029.7 746.6L2030.4 747.5L2031.0 746.4L2031.7 743.8L2032.3 740.5L2032.9 737.8L2033.6 736.8L2034.3 737.9L2035.1 740.7L2035.9 744.2L2036.7 747.0L2037.4 748.1L2038.1 747.1L2038.7 744.5L2039.3 741.4L2040.0 738.8L2040.6 737.8L2041.1 738.9L2041.7 741.8L2042.2 745.4L2042.7 748.3L2043.2 749.4L2043.7 748.3L2044.2 745.6L2044.7 742.2L2045.2 739.5L2045.8 738.4L2046.4 739.2L2047.0 741.3L2047.7 743.9L2048.3 746.0L2049.0 746.8L2049.5 746.1L2050.0 744.4L2050.5 742.2L2051.0 740.4L2051.5 739.7L2052.2 740.3L2052.8 742.0L2053.4 743.9L2054.1 745.6L2054.7 746.2L2055.4 745.7L2056.0 744.5L2056.7 743.0L2057.3 741.7L2057.9 741.2L2058.6 741.6L2059.2 742.5L2059.9 743.6L2060.5 744.5L2061.1 744.9L2061.9 744.2L2062.7 742.5L2063.4 740.4L2064.2 738.7L2065.0 738.1L2065.5 738.7L2066.0 740.4L2066.5 742.5L2067.0 744.2L2067.5 744.9L2068.2 744.5L2068.8 743.5L2069.5 742.3L2070.1 741.3L2070.8 740.9L2071.3 741.4L2071.8 742.5L2072.3 743.9L2072.8 745.1L2073.3 745.5L2074.0 744.4L2074.8 741.5L2075.5 738.0L2076.2 735.1L2076.9 733.9L2077.5 735.1L2078.0 738.2L2078.6 742.0L2079.2 745.0L2079.7 746.2L2080.5 745.2L2081.3 742.6L2082.0 739.4L2082.8 736.9L2083.6 735.9L2084.0 736.9L2084.3 739.4L2084.7 742.6L2085.1 745.2L2085.5 746.2L2086.4 745.0L2087.3 742.0L2088.2 738.2L2089.1 735.1L2090.0 733.9L2090.6 734.9L2091.3 737.5L2091.9 740.6L2092.5 743.2L2093.2 744.1L2093.8 743.4L2094.3 741.4L2094.9 739.0L2095.4 737.0L2096.0 736.3L2096.5 737.3L2096.9 739.9L2097.4 743.2L2097.9 745.8L2098.3 746.8L2098.9 745.9L2099.5 743.6L2100.1 740.8L2100.7 738.5L2101.3 737.6L2101.9 739.3L2102.5 743.7L2103.1 749.1L2103.6 753.5L2104.2 755.2L2104.7 754.0L2105.2 750.9L2105.6 747.0L2106.1 743.9L2106.6 742.8L2107.1 743.9L2107.5 746.9L2108.0 750.7L2108.5 753.7L2109.0 754.8L2109.5 755.8L2110.0 758.2L2110.5 761.3L2111.1 763.7L2111.6 764.7"/>
</g>
<g font-family="'Liberation Sans', Arial, Helvetica, sans-serif" fill="#262626" stroke="#262626" stroke-width="0.5" font-size="90.0">
<text transform="translate(266.6 1554.3) scale(1.005 1)" text-anchor="middle">0</text>
<text transform="translate(530.0 1554.3) scale(1.005 1)" text-anchor="middle">20</text>
<text transform="translate(793.4 1554.3) scale(1.005 1)" text-anchor="middle">40</text>
<text transform="translate(1056.8 1554.3) scale(1.005 1)" text-anchor="middle">60</text>
<text transform="translate(1320.3 1554.3) scale(1.005 1)" text-anchor="middle">80</text>
<text transform="translate(1583.7 1554.3) scale(1.005 1)" text-anchor="middle">100</text>
<text transform="translate(1847.1 1554.3) scale(1.005 1)" text-anchor="middle">120</text>
<text transform="translate(2110.5 1554.3) scale(1.005 1)" text-anchor="middle">140</text>
<text transform="translate(235.5 85.8) scale(1.005 1)" text-anchor="end">4</text>
<text transform="translate(235.5 430.9) scale(1.005 1)" text-anchor="end">2</text>
<text transform="translate(235.5 776.0) scale(1.005 1)" text-anchor="end">0</text>
<text transform="translate(235.5 1121.2) scale(1.005 1)" text-anchor="end">-2</text>
<text transform="translate(235.5 1466.3) scale(1.005 1)" text-anchor="end">-4</text>
<text x="1187.5" y="1676.8" text-anchor="middle" letter-spacing="0.55">Time (sec)</text>
<text transform="translate(116 1131) rotate(-90)" x="0" y="0" font-size="90.5">Acceleration (m/s<tspan font-size="69" dy="-45" dx="2">2</tspan><tspan dy="45" dx="5">)</tspan></text>
</g>
<rect x="1389.6" y="108.9" width="665.6" height="195.3" fill="#fff" stroke="#262626" stroke-width="3.5"/>
<path d="M1405.7 161.3H1535.2" stroke="#000" stroke-width="3.2"/>
<path d="M1405.7 252.1H1535.2" stroke="#f00" stroke-width="4"/>
<g font-family="'Liberation Sans', Arial, Helvetica, sans-serif" fill="#000" stroke="#000" stroke-width="0.4" font-size="65.0">
<text transform="translate(1548.2 186.8) scale(1.042 1)">without particles</text>
<text transform="translate(1548.2 276.6) scale(1.042 1)">with particles</text>
</g>
</svg>
</body></html>
